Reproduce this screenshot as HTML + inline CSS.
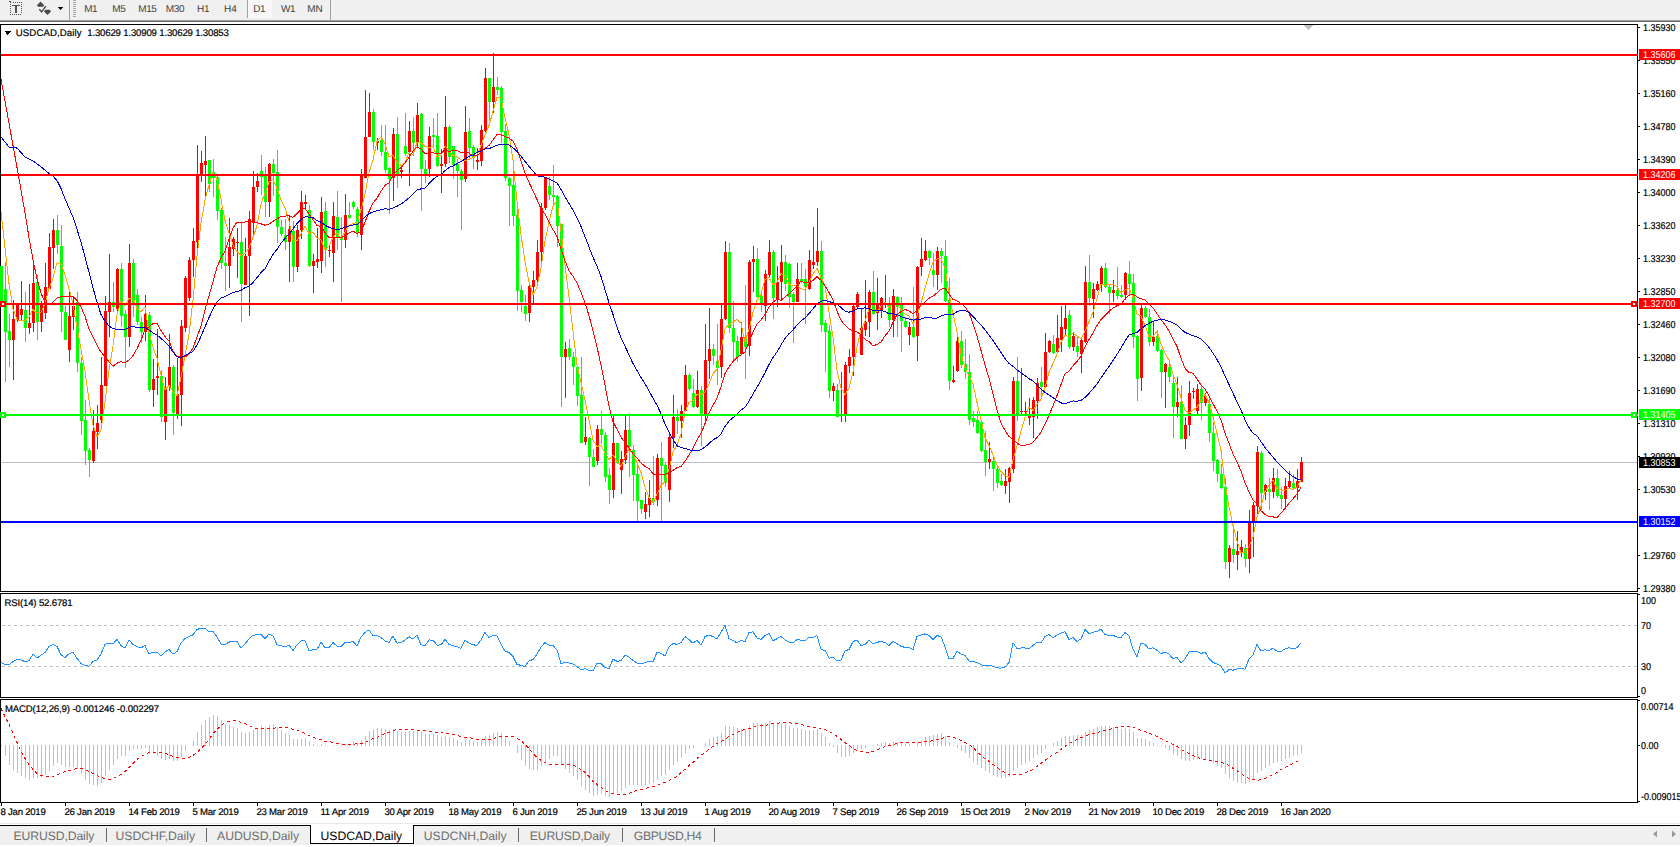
<!DOCTYPE html>
<html><head><meta charset="utf-8"><title>USDCAD,Daily</title>
<style>
html,body{margin:0;padding:0;background:#fff;}
body{width:1680px;height:847px;position:relative;overflow:hidden;font-family:"Liberation Sans",sans-serif;color:#000;text-rendering:geometricPrecision;}
.abs{position:absolute;}
.tb{left:0;top:0;width:1680px;height:20px;background:#f0f0f0;}
.tf{position:absolute;top:3px;font-size:10px;color:#3c3c3c;line-height:11px;white-space:nowrap;}
.ax,.lbl,.dt{-webkit-text-stroke:0.2px currentColor;}
.ax{position:absolute;left:1643px;font-size:10px;line-height:11px;white-space:nowrap;transform:scaleX(0.9);transform-origin:0 0;}
.pl{position:absolute;left:1639px;width:41px;height:11px;font-size:10px;line-height:11px;color:#fff;white-space:nowrap;}
.pl span{position:absolute;left:4px;top:1px;transform:scaleX(0.9);transform-origin:0 0;}
.dt{position:absolute;top:807px;font-size:9.6px;line-height:11px;letter-spacing:-0.25px;white-space:nowrap;}
.tab{position:absolute;top:828px;font-size:12.2px;line-height:15px;color:#6e6e6e;letter-spacing:-0.1px;white-space:nowrap;}
.lbl{position:absolute;font-size:9.6px;line-height:11px;letter-spacing:-0.3px;white-space:nowrap;}
svg{position:absolute;left:0;top:0;}
</style></head><body>

<div class="abs tb"></div>
<div class="abs" style="left:0;top:20px;width:1680px;height:1px;background:#a0a0a0"></div>
<div class="abs" style="left:0;top:21px;width:1680px;height:1px;background:#696969"></div>
<div class="abs" style="left:247px;top:0;width:25px;height:18px;background:#f8f8f8;border-left:1px solid #a0a0a0;box-sizing:border-box"></div>
<div class="tf" style="left:84.2px;top:4px;letter-spacing:-0.453px;">M1</div>
<div class="tf" style="left:112.3px;top:4px;letter-spacing:-0.453px;">M5</div>
<div class="tf" style="left:138.3px;top:4px;letter-spacing:-0.451px;">M15</div>
<div class="tf" style="left:165.8px;top:4px;letter-spacing:-0.384px;">M30</div>
<div class="tf" style="left:196.9px;top:4px;letter-spacing:-0.198px;">H1</div>
<div class="tf" style="left:224px;top:4px;letter-spacing:0.102px;">H4</div>
<div class="tf" style="left:253.2px;top:4px;letter-spacing:-0.498px;">D1</div>
<div class="tf" style="left:281px;top:4px;letter-spacing:-0.350px;">W1</div>
<div class="tf" style="left:307.3px;top:4px;letter-spacing:-0.231px;">MN</div>
<div class="abs" style="left:69px;top:0;width:1px;height:20px;background:#a0a0a0"></div>
<div class="abs" style="left:330px;top:0;width:1px;height:20px;background:#a0a0a0"></div>
<svg width="1680" height="847" viewBox="0 0 1680 847" shape-rendering="crispEdges">
<rect x="13" y="2" width="1" height="1" fill="#505050"/>
<rect x="15" y="2" width="1" height="1" fill="#505050"/>
<rect x="17" y="2" width="1" height="1" fill="#505050"/>
<rect x="19" y="2" width="1" height="1" fill="#505050"/>
<rect x="21" y="2" width="1" height="1" fill="#505050"/>
<rect x="10" y="4" width="1" height="1" fill="#505050"/>
<rect x="10" y="6" width="1" height="1" fill="#505050"/>
<rect x="10" y="8" width="1" height="1" fill="#505050"/>
<rect x="10" y="10" width="1" height="1" fill="#505050"/>
<rect x="10" y="12" width="1" height="1" fill="#505050"/>
<rect x="10" y="14" width="1" height="1" fill="#505050"/>
<rect x="10" y="14" width="1" height="1" fill="#505050"/>
<rect x="12" y="14" width="1" height="1" fill="#505050"/>
<rect x="14" y="14" width="1" height="1" fill="#505050"/>
<rect x="16" y="14" width="1" height="1" fill="#505050"/>
<rect x="18" y="14" width="1" height="1" fill="#505050"/>
<rect x="20" y="14" width="1" height="1" fill="#505050"/>
<rect x="21" y="2" width="1" height="1" fill="#505050"/>
<rect x="21" y="4" width="1" height="1" fill="#505050"/>
<rect x="21" y="6" width="1" height="1" fill="#505050"/>
<rect x="21" y="8" width="1" height="1" fill="#505050"/>
<rect x="21" y="10" width="1" height="1" fill="#505050"/>
<rect x="21" y="12" width="1" height="1" fill="#505050"/>
<rect x="9" y="1" width="2" height="1" fill="#505050"/>
<rect x="10" y="2" width="1" height="1" fill="#505050"/>
<rect x="12" y="5" width="8" height="1" fill="#505050"/>
<rect x="15" y="6" width="2" height="7" fill="#505050"/>
<g shape-rendering="auto">
<polygon points="40.5,1.6 44.2,5.5 43,6.7 38.2,6.7 36.8,5.5" fill="#484848"/>
<polygon points="45.3,9.8 49.7,9.8 51,11.4 47.5,15 44,11.4" fill="#484848"/>
<polyline points="39.3,9.3 41.6,11.8 45.8,6.2" fill="none" stroke="#484848" stroke-width="1.4"/>
<polygon points="57.7,7 63.3,7 60.5,10" fill="#000"/>
</g>
<rect x="73" y="0" width="3" height="1" fill="#a8a8a8"/>
<rect x="73" y="2" width="3" height="1" fill="#a8a8a8"/>
<rect x="73" y="4" width="3" height="1" fill="#a8a8a8"/>
<rect x="73" y="6" width="3" height="1" fill="#a8a8a8"/>
<rect x="73" y="8" width="3" height="1" fill="#a8a8a8"/>
<rect x="73" y="10" width="3" height="1" fill="#a8a8a8"/>
<rect x="73" y="12" width="3" height="1" fill="#a8a8a8"/>
<rect x="73" y="14" width="3" height="1" fill="#a8a8a8"/>
<rect x="73" y="16" width="3" height="1" fill="#a8a8a8"/>
<rect x="0" y="24" width="1638" height="1" fill="#000"/>
<rect x="0" y="24" width="1" height="779" fill="#000"/>
<rect x="1637" y="24" width="1" height="779" fill="#000"/>
<rect x="0" y="591" width="1638" height="1" fill="#000"/>
<rect x="0" y="593" width="1638" height="1" fill="#000"/>
<rect x="0" y="697" width="1638" height="1" fill="#000"/>
<rect x="0" y="699" width="1638" height="1" fill="#000"/>
<rect x="0" y="802" width="1638" height="1" fill="#000"/>
<rect x="1" y="592" width="1636" height="1" fill="#fff"/>
<rect x="1" y="698" width="1636" height="1" fill="#fff"/>
<rect x="0" y="592" width="1" height="1" fill="#fff"/>
<rect x="1637" y="592" width="1" height="1" fill="#fff"/>
<rect x="0" y="698" width="1" height="1" fill="#fff"/>
<rect x="1637" y="698" width="1" height="1" fill="#fff"/>
<rect x="1638" y="27" width="2" height="1" fill="#000"/>
<rect x="1638" y="60" width="2" height="1" fill="#000"/>
<rect x="1638" y="93" width="2" height="1" fill="#000"/>
<rect x="1638" y="126" width="2" height="1" fill="#000"/>
<rect x="1638" y="159" width="2" height="1" fill="#000"/>
<rect x="1638" y="192" width="2" height="1" fill="#000"/>
<rect x="1638" y="225" width="2" height="1" fill="#000"/>
<rect x="1638" y="258" width="2" height="1" fill="#000"/>
<rect x="1638" y="291" width="2" height="1" fill="#000"/>
<rect x="1638" y="324" width="2" height="1" fill="#000"/>
<rect x="1638" y="357" width="2" height="1" fill="#000"/>
<rect x="1638" y="390" width="2" height="1" fill="#000"/>
<rect x="1638" y="423" width="2" height="1" fill="#000"/>
<rect x="1638" y="456" width="2" height="1" fill="#000"/>
<rect x="1638" y="489" width="2" height="1" fill="#000"/>
<rect x="1638" y="555" width="2" height="1" fill="#000"/>
<rect x="1638" y="588" width="2" height="1" fill="#000"/>
<rect x="1638" y="745" width="2" height="1" fill="#000"/>
<rect x="1638" y="594" width="2" height="1" fill="#000"/>
<rect x="1638" y="696" width="2" height="1" fill="#000"/>
<rect x="1638" y="700" width="2" height="1" fill="#000"/>
<rect x="1638" y="801" width="2" height="1" fill="#000"/>
<rect x="1" y="803" width="1" height="3" fill="#000"/>
<rect x="65" y="803" width="1" height="3" fill="#000"/>
<rect x="129" y="803" width="1" height="3" fill="#000"/>
<rect x="193" y="803" width="1" height="3" fill="#000"/>
<rect x="257" y="803" width="1" height="3" fill="#000"/>
<rect x="321" y="803" width="1" height="3" fill="#000"/>
<rect x="385" y="803" width="1" height="3" fill="#000"/>
<rect x="449" y="803" width="1" height="3" fill="#000"/>
<rect x="513" y="803" width="1" height="3" fill="#000"/>
<rect x="577" y="803" width="1" height="3" fill="#000"/>
<rect x="641" y="803" width="1" height="3" fill="#000"/>
<rect x="705" y="803" width="1" height="3" fill="#000"/>
<rect x="769" y="803" width="1" height="3" fill="#000"/>
<rect x="833" y="803" width="1" height="3" fill="#000"/>
<rect x="897" y="803" width="1" height="3" fill="#000"/>
<rect x="961" y="803" width="1" height="3" fill="#000"/>
<rect x="1025" y="803" width="1" height="3" fill="#000"/>
<rect x="1089" y="803" width="1" height="3" fill="#000"/>
<rect x="1153" y="803" width="1" height="3" fill="#000"/>
<rect x="1217" y="803" width="1" height="3" fill="#000"/>
<rect x="1281" y="803" width="1" height="3" fill="#000"/>
<rect x="1" y="462" width="1636" height="1" fill="#c0c0c0"/>
<rect x="1304" y="25" width="9" height="1" fill="#c0c0c0"/>
<rect x="1305" y="26" width="7" height="1" fill="#c0c0c0"/>
<rect x="1306" y="27" width="5" height="1" fill="#c0c0c0"/>
<rect x="1307" y="28" width="3" height="1" fill="#c0c0c0"/>
<rect x="1308" y="29" width="1" height="1" fill="#c0c0c0"/>
<polygon points="4,30.5 11.5,30.5 7.75,35" fill="#000"/>
<g stroke="#c0c0c0" stroke-width="1" stroke-dasharray="3 3">
<line x1="2" y1="625.5" x2="1637" y2="625.5"/><line x1="2" y1="666.5" x2="1637" y2="666.5"/></g>
<rect x="1" y="745" width="1" height="1" fill="#c0c0c0"/>
<rect x="5" y="745" width="1" height="11" fill="#c0c0c0"/>
<rect x="9" y="745" width="1" height="20" fill="#c0c0c0"/>
<rect x="13" y="745" width="1" height="25" fill="#c0c0c0"/>
<rect x="17" y="745" width="1" height="28" fill="#c0c0c0"/>
<rect x="21" y="745" width="1" height="31" fill="#c0c0c0"/>
<rect x="25" y="745" width="1" height="33" fill="#c0c0c0"/>
<rect x="29" y="745" width="1" height="35" fill="#c0c0c0"/>
<rect x="33" y="745" width="1" height="33" fill="#c0c0c0"/>
<rect x="37" y="745" width="1" height="33" fill="#c0c0c0"/>
<rect x="41" y="745" width="1" height="32" fill="#c0c0c0"/>
<rect x="45" y="745" width="1" height="30" fill="#c0c0c0"/>
<rect x="49" y="745" width="1" height="26" fill="#c0c0c0"/>
<rect x="53" y="745" width="1" height="21" fill="#c0c0c0"/>
<rect x="57" y="745" width="1" height="18" fill="#c0c0c0"/>
<rect x="61" y="745" width="1" height="20" fill="#c0c0c0"/>
<rect x="65" y="745" width="1" height="22" fill="#c0c0c0"/>
<rect x="69" y="745" width="1" height="22" fill="#c0c0c0"/>
<rect x="73" y="745" width="1" height="22" fill="#c0c0c0"/>
<rect x="77" y="745" width="1" height="24" fill="#c0c0c0"/>
<rect x="81" y="745" width="1" height="29" fill="#c0c0c0"/>
<rect x="85" y="745" width="1" height="35" fill="#c0c0c0"/>
<rect x="89" y="745" width="1" height="39" fill="#c0c0c0"/>
<rect x="93" y="745" width="1" height="40" fill="#c0c0c0"/>
<rect x="97" y="745" width="1" height="41" fill="#c0c0c0"/>
<rect x="101" y="745" width="1" height="38" fill="#c0c0c0"/>
<rect x="105" y="745" width="1" height="31" fill="#c0c0c0"/>
<rect x="109" y="745" width="1" height="25" fill="#c0c0c0"/>
<rect x="113" y="745" width="1" height="20" fill="#c0c0c0"/>
<rect x="117" y="745" width="1" height="14" fill="#c0c0c0"/>
<rect x="121" y="745" width="1" height="11" fill="#c0c0c0"/>
<rect x="125" y="745" width="1" height="11" fill="#c0c0c0"/>
<rect x="129" y="745" width="1" height="6" fill="#c0c0c0"/>
<rect x="133" y="745" width="1" height="4" fill="#c0c0c0"/>
<rect x="137" y="745" width="1" height="4" fill="#c0c0c0"/>
<rect x="141" y="745" width="1" height="4" fill="#c0c0c0"/>
<rect x="145" y="745" width="1" height="3" fill="#c0c0c0"/>
<rect x="149" y="745" width="1" height="7" fill="#c0c0c0"/>
<rect x="153" y="745" width="1" height="9" fill="#c0c0c0"/>
<rect x="157" y="745" width="1" height="11" fill="#c0c0c0"/>
<rect x="161" y="745" width="1" height="14" fill="#c0c0c0"/>
<rect x="165" y="745" width="1" height="15" fill="#c0c0c0"/>
<rect x="169" y="745" width="1" height="14" fill="#c0c0c0"/>
<rect x="173" y="745" width="1" height="16" fill="#c0c0c0"/>
<rect x="177" y="745" width="1" height="16" fill="#c0c0c0"/>
<rect x="181" y="745" width="1" height="12" fill="#c0c0c0"/>
<rect x="185" y="745" width="1" height="6" fill="#c0c0c0"/>
<rect x="193" y="741" width="1" height="5" fill="#c0c0c0"/>
<rect x="197" y="732" width="1" height="14" fill="#c0c0c0"/>
<rect x="201" y="725" width="1" height="21" fill="#c0c0c0"/>
<rect x="205" y="720" width="1" height="26" fill="#c0c0c0"/>
<rect x="209" y="717" width="1" height="29" fill="#c0c0c0"/>
<rect x="213" y="715" width="1" height="31" fill="#c0c0c0"/>
<rect x="217" y="716" width="1" height="30" fill="#c0c0c0"/>
<rect x="221" y="720" width="1" height="26" fill="#c0c0c0"/>
<rect x="225" y="724" width="1" height="22" fill="#c0c0c0"/>
<rect x="229" y="725" width="1" height="21" fill="#c0c0c0"/>
<rect x="233" y="727" width="1" height="19" fill="#c0c0c0"/>
<rect x="237" y="728" width="1" height="18" fill="#c0c0c0"/>
<rect x="241" y="732" width="1" height="14" fill="#c0c0c0"/>
<rect x="245" y="733" width="1" height="13" fill="#c0c0c0"/>
<rect x="249" y="732" width="1" height="14" fill="#c0c0c0"/>
<rect x="253" y="730" width="1" height="16" fill="#c0c0c0"/>
<rect x="257" y="728" width="1" height="18" fill="#c0c0c0"/>
<rect x="261" y="726" width="1" height="20" fill="#c0c0c0"/>
<rect x="265" y="727" width="1" height="19" fill="#c0c0c0"/>
<rect x="269" y="725" width="1" height="21" fill="#c0c0c0"/>
<rect x="273" y="724" width="1" height="22" fill="#c0c0c0"/>
<rect x="277" y="727" width="1" height="19" fill="#c0c0c0"/>
<rect x="281" y="730" width="1" height="16" fill="#c0c0c0"/>
<rect x="285" y="733" width="1" height="13" fill="#c0c0c0"/>
<rect x="289" y="735" width="1" height="11" fill="#c0c0c0"/>
<rect x="293" y="739" width="1" height="7" fill="#c0c0c0"/>
<rect x="297" y="739" width="1" height="7" fill="#c0c0c0"/>
<rect x="301" y="739" width="1" height="7" fill="#c0c0c0"/>
<rect x="305" y="738" width="1" height="8" fill="#c0c0c0"/>
<rect x="309" y="741" width="1" height="5" fill="#c0c0c0"/>
<rect x="313" y="744" width="1" height="2" fill="#c0c0c0"/>
<rect x="317" y="745" width="1" height="1" fill="#c0c0c0"/>
<rect x="321" y="744" width="1" height="2" fill="#c0c0c0"/>
<rect x="325" y="745" width="1" height="1" fill="#c0c0c0"/>
<rect x="333" y="745" width="1" height="1" fill="#c0c0c0"/>
<rect x="337" y="745" width="1" height="1" fill="#c0c0c0"/>
<rect x="341" y="745" width="1" height="1" fill="#c0c0c0"/>
<rect x="345" y="744" width="1" height="2" fill="#c0c0c0"/>
<rect x="349" y="744" width="1" height="2" fill="#c0c0c0"/>
<rect x="353" y="742" width="1" height="4" fill="#c0c0c0"/>
<rect x="357" y="743" width="1" height="3" fill="#c0c0c0"/>
<rect x="361" y="740" width="1" height="6" fill="#c0c0c0"/>
<rect x="365" y="736" width="1" height="10" fill="#c0c0c0"/>
<rect x="369" y="731" width="1" height="15" fill="#c0c0c0"/>
<rect x="373" y="729" width="1" height="17" fill="#c0c0c0"/>
<rect x="377" y="728" width="1" height="18" fill="#c0c0c0"/>
<rect x="381" y="728" width="1" height="18" fill="#c0c0c0"/>
<rect x="385" y="729" width="1" height="17" fill="#c0c0c0"/>
<rect x="389" y="730" width="1" height="16" fill="#c0c0c0"/>
<rect x="393" y="729" width="1" height="17" fill="#c0c0c0"/>
<rect x="397" y="731" width="1" height="15" fill="#c0c0c0"/>
<rect x="401" y="732" width="1" height="14" fill="#c0c0c0"/>
<rect x="405" y="732" width="1" height="14" fill="#c0c0c0"/>
<rect x="409" y="731" width="1" height="15" fill="#c0c0c0"/>
<rect x="413" y="731" width="1" height="15" fill="#c0c0c0"/>
<rect x="417" y="730" width="1" height="16" fill="#c0c0c0"/>
<rect x="421" y="732" width="1" height="14" fill="#c0c0c0"/>
<rect x="425" y="734" width="1" height="12" fill="#c0c0c0"/>
<rect x="429" y="734" width="1" height="12" fill="#c0c0c0"/>
<rect x="433" y="734" width="1" height="12" fill="#c0c0c0"/>
<rect x="437" y="735" width="1" height="11" fill="#c0c0c0"/>
<rect x="441" y="737" width="1" height="9" fill="#c0c0c0"/>
<rect x="445" y="736" width="1" height="10" fill="#c0c0c0"/>
<rect x="449" y="737" width="1" height="9" fill="#c0c0c0"/>
<rect x="453" y="738" width="1" height="8" fill="#c0c0c0"/>
<rect x="457" y="740" width="1" height="6" fill="#c0c0c0"/>
<rect x="461" y="742" width="1" height="4" fill="#c0c0c0"/>
<rect x="465" y="740" width="1" height="6" fill="#c0c0c0"/>
<rect x="469" y="740" width="1" height="6" fill="#c0c0c0"/>
<rect x="473" y="741" width="1" height="5" fill="#c0c0c0"/>
<rect x="477" y="742" width="1" height="4" fill="#c0c0c0"/>
<rect x="481" y="740" width="1" height="6" fill="#c0c0c0"/>
<rect x="485" y="736" width="1" height="10" fill="#c0c0c0"/>
<rect x="489" y="735" width="1" height="11" fill="#c0c0c0"/>
<rect x="493" y="733" width="1" height="13" fill="#c0c0c0"/>
<rect x="497" y="732" width="1" height="14" fill="#c0c0c0"/>
<rect x="501" y="733" width="1" height="13" fill="#c0c0c0"/>
<rect x="505" y="738" width="1" height="8" fill="#c0c0c0"/>
<rect x="509" y="741" width="1" height="5" fill="#c0c0c0"/>
<rect x="517" y="745" width="1" height="8" fill="#c0c0c0"/>
<rect x="521" y="745" width="1" height="15" fill="#c0c0c0"/>
<rect x="525" y="745" width="1" height="21" fill="#c0c0c0"/>
<rect x="529" y="745" width="1" height="24" fill="#c0c0c0"/>
<rect x="533" y="745" width="1" height="25" fill="#c0c0c0"/>
<rect x="537" y="745" width="1" height="25" fill="#c0c0c0"/>
<rect x="541" y="745" width="1" height="21" fill="#c0c0c0"/>
<rect x="545" y="745" width="1" height="17" fill="#c0c0c0"/>
<rect x="549" y="745" width="1" height="14" fill="#c0c0c0"/>
<rect x="553" y="745" width="1" height="11" fill="#c0c0c0"/>
<rect x="557" y="745" width="1" height="11" fill="#c0c0c0"/>
<rect x="561" y="745" width="1" height="19" fill="#c0c0c0"/>
<rect x="565" y="745" width="1" height="24" fill="#c0c0c0"/>
<rect x="569" y="745" width="1" height="28" fill="#c0c0c0"/>
<rect x="573" y="745" width="1" height="31" fill="#c0c0c0"/>
<rect x="577" y="745" width="1" height="35" fill="#c0c0c0"/>
<rect x="581" y="745" width="1" height="41" fill="#c0c0c0"/>
<rect x="585" y="745" width="1" height="45" fill="#c0c0c0"/>
<rect x="589" y="745" width="1" height="48" fill="#c0c0c0"/>
<rect x="593" y="745" width="1" height="51" fill="#c0c0c0"/>
<rect x="597" y="745" width="1" height="50" fill="#c0c0c0"/>
<rect x="601" y="745" width="1" height="49" fill="#c0c0c0"/>
<rect x="605" y="745" width="1" height="51" fill="#c0c0c0"/>
<rect x="609" y="745" width="1" height="52" fill="#c0c0c0"/>
<rect x="613" y="745" width="1" height="49" fill="#c0c0c0"/>
<rect x="617" y="745" width="1" height="48" fill="#c0c0c0"/>
<rect x="621" y="745" width="1" height="46" fill="#c0c0c0"/>
<rect x="625" y="745" width="1" height="43" fill="#c0c0c0"/>
<rect x="629" y="745" width="1" height="40" fill="#c0c0c0"/>
<rect x="633" y="745" width="1" height="40" fill="#c0c0c0"/>
<rect x="637" y="745" width="1" height="40" fill="#c0c0c0"/>
<rect x="641" y="745" width="1" height="41" fill="#c0c0c0"/>
<rect x="645" y="745" width="1" height="40" fill="#c0c0c0"/>
<rect x="649" y="745" width="1" height="39" fill="#c0c0c0"/>
<rect x="653" y="745" width="1" height="38" fill="#c0c0c0"/>
<rect x="657" y="745" width="1" height="34" fill="#c0c0c0"/>
<rect x="661" y="745" width="1" height="31" fill="#c0c0c0"/>
<rect x="665" y="745" width="1" height="30" fill="#c0c0c0"/>
<rect x="669" y="745" width="1" height="25" fill="#c0c0c0"/>
<rect x="673" y="745" width="1" height="20" fill="#c0c0c0"/>
<rect x="677" y="745" width="1" height="17" fill="#c0c0c0"/>
<rect x="681" y="745" width="1" height="13" fill="#c0c0c0"/>
<rect x="685" y="745" width="1" height="8" fill="#c0c0c0"/>
<rect x="689" y="745" width="1" height="4" fill="#c0c0c0"/>
<rect x="693" y="745" width="1" height="3" fill="#c0c0c0"/>
<rect x="705" y="743" width="1" height="3" fill="#c0c0c0"/>
<rect x="709" y="739" width="1" height="7" fill="#c0c0c0"/>
<rect x="713" y="737" width="1" height="9" fill="#c0c0c0"/>
<rect x="717" y="736" width="1" height="10" fill="#c0c0c0"/>
<rect x="721" y="733" width="1" height="13" fill="#c0c0c0"/>
<rect x="725" y="726" width="1" height="20" fill="#c0c0c0"/>
<rect x="729" y="726" width="1" height="20" fill="#c0c0c0"/>
<rect x="733" y="727" width="1" height="19" fill="#c0c0c0"/>
<rect x="737" y="728" width="1" height="18" fill="#c0c0c0"/>
<rect x="741" y="729" width="1" height="17" fill="#c0c0c0"/>
<rect x="745" y="730" width="1" height="16" fill="#c0c0c0"/>
<rect x="749" y="726" width="1" height="20" fill="#c0c0c0"/>
<rect x="753" y="723" width="1" height="23" fill="#c0c0c0"/>
<rect x="757" y="723" width="1" height="23" fill="#c0c0c0"/>
<rect x="761" y="724" width="1" height="22" fill="#c0c0c0"/>
<rect x="765" y="723" width="1" height="23" fill="#c0c0c0"/>
<rect x="769" y="721" width="1" height="25" fill="#c0c0c0"/>
<rect x="773" y="723" width="1" height="23" fill="#c0c0c0"/>
<rect x="777" y="723" width="1" height="23" fill="#c0c0c0"/>
<rect x="781" y="723" width="1" height="23" fill="#c0c0c0"/>
<rect x="785" y="724" width="1" height="22" fill="#c0c0c0"/>
<rect x="789" y="726" width="1" height="20" fill="#c0c0c0"/>
<rect x="793" y="728" width="1" height="18" fill="#c0c0c0"/>
<rect x="797" y="728" width="1" height="18" fill="#c0c0c0"/>
<rect x="801" y="729" width="1" height="17" fill="#c0c0c0"/>
<rect x="805" y="730" width="1" height="16" fill="#c0c0c0"/>
<rect x="809" y="730" width="1" height="16" fill="#c0c0c0"/>
<rect x="813" y="730" width="1" height="16" fill="#c0c0c0"/>
<rect x="817" y="729" width="1" height="17" fill="#c0c0c0"/>
<rect x="821" y="733" width="1" height="13" fill="#c0c0c0"/>
<rect x="825" y="737" width="1" height="9" fill="#c0c0c0"/>
<rect x="829" y="743" width="1" height="3" fill="#c0c0c0"/>
<rect x="833" y="745" width="1" height="2" fill="#c0c0c0"/>
<rect x="837" y="745" width="1" height="8" fill="#c0c0c0"/>
<rect x="841" y="745" width="1" height="12" fill="#c0c0c0"/>
<rect x="845" y="745" width="1" height="12" fill="#c0c0c0"/>
<rect x="849" y="745" width="1" height="11" fill="#c0c0c0"/>
<rect x="853" y="745" width="1" height="8" fill="#c0c0c0"/>
<rect x="857" y="745" width="1" height="5" fill="#c0c0c0"/>
<rect x="861" y="745" width="1" height="4" fill="#c0c0c0"/>
<rect x="865" y="745" width="1" height="3" fill="#c0c0c0"/>
<rect x="873" y="745" width="1" height="1" fill="#c0c0c0"/>
<rect x="877" y="744" width="1" height="2" fill="#c0c0c0"/>
<rect x="881" y="743" width="1" height="3" fill="#c0c0c0"/>
<rect x="885" y="742" width="1" height="4" fill="#c0c0c0"/>
<rect x="889" y="743" width="1" height="3" fill="#c0c0c0"/>
<rect x="893" y="742" width="1" height="4" fill="#c0c0c0"/>
<rect x="897" y="742" width="1" height="4" fill="#c0c0c0"/>
<rect x="901" y="743" width="1" height="3" fill="#c0c0c0"/>
<rect x="905" y="744" width="1" height="2" fill="#c0c0c0"/>
<rect x="909" y="744" width="1" height="2" fill="#c0c0c0"/>
<rect x="917" y="743" width="1" height="3" fill="#c0c0c0"/>
<rect x="921" y="740" width="1" height="6" fill="#c0c0c0"/>
<rect x="925" y="737" width="1" height="9" fill="#c0c0c0"/>
<rect x="929" y="736" width="1" height="10" fill="#c0c0c0"/>
<rect x="933" y="735" width="1" height="11" fill="#c0c0c0"/>
<rect x="937" y="734" width="1" height="12" fill="#c0c0c0"/>
<rect x="941" y="733" width="1" height="13" fill="#c0c0c0"/>
<rect x="945" y="736" width="1" height="10" fill="#c0c0c0"/>
<rect x="949" y="742" width="1" height="4" fill="#c0c0c0"/>
<rect x="953" y="745" width="1" height="1" fill="#c0c0c0"/>
<rect x="957" y="745" width="1" height="3" fill="#c0c0c0"/>
<rect x="961" y="745" width="1" height="6" fill="#c0c0c0"/>
<rect x="965" y="745" width="1" height="8" fill="#c0c0c0"/>
<rect x="969" y="745" width="1" height="13" fill="#c0c0c0"/>
<rect x="973" y="745" width="1" height="17" fill="#c0c0c0"/>
<rect x="977" y="745" width="1" height="20" fill="#c0c0c0"/>
<rect x="981" y="745" width="1" height="23" fill="#c0c0c0"/>
<rect x="985" y="745" width="1" height="26" fill="#c0c0c0"/>
<rect x="989" y="745" width="1" height="28" fill="#c0c0c0"/>
<rect x="993" y="745" width="1" height="30" fill="#c0c0c0"/>
<rect x="997" y="745" width="1" height="32" fill="#c0c0c0"/>
<rect x="1001" y="745" width="1" height="33" fill="#c0c0c0"/>
<rect x="1005" y="745" width="1" height="33" fill="#c0c0c0"/>
<rect x="1009" y="745" width="1" height="32" fill="#c0c0c0"/>
<rect x="1013" y="745" width="1" height="26" fill="#c0c0c0"/>
<rect x="1017" y="745" width="1" height="23" fill="#c0c0c0"/>
<rect x="1021" y="745" width="1" height="20" fill="#c0c0c0"/>
<rect x="1025" y="745" width="1" height="18" fill="#c0c0c0"/>
<rect x="1029" y="745" width="1" height="16" fill="#c0c0c0"/>
<rect x="1033" y="745" width="1" height="13" fill="#c0c0c0"/>
<rect x="1037" y="745" width="1" height="10" fill="#c0c0c0"/>
<rect x="1041" y="745" width="1" height="8" fill="#c0c0c0"/>
<rect x="1045" y="745" width="1" height="4" fill="#c0c0c0"/>
<rect x="1053" y="743" width="1" height="3" fill="#c0c0c0"/>
<rect x="1057" y="741" width="1" height="5" fill="#c0c0c0"/>
<rect x="1061" y="738" width="1" height="8" fill="#c0c0c0"/>
<rect x="1065" y="736" width="1" height="10" fill="#c0c0c0"/>
<rect x="1069" y="736" width="1" height="10" fill="#c0c0c0"/>
<rect x="1073" y="735" width="1" height="11" fill="#c0c0c0"/>
<rect x="1077" y="735" width="1" height="11" fill="#c0c0c0"/>
<rect x="1081" y="735" width="1" height="11" fill="#c0c0c0"/>
<rect x="1085" y="732" width="1" height="14" fill="#c0c0c0"/>
<rect x="1089" y="730" width="1" height="16" fill="#c0c0c0"/>
<rect x="1093" y="729" width="1" height="17" fill="#c0c0c0"/>
<rect x="1097" y="727" width="1" height="19" fill="#c0c0c0"/>
<rect x="1101" y="726" width="1" height="20" fill="#c0c0c0"/>
<rect x="1105" y="726" width="1" height="20" fill="#c0c0c0"/>
<rect x="1109" y="726" width="1" height="20" fill="#c0c0c0"/>
<rect x="1113" y="727" width="1" height="19" fill="#c0c0c0"/>
<rect x="1117" y="728" width="1" height="18" fill="#c0c0c0"/>
<rect x="1121" y="729" width="1" height="17" fill="#c0c0c0"/>
<rect x="1125" y="728" width="1" height="18" fill="#c0c0c0"/>
<rect x="1129" y="729" width="1" height="17" fill="#c0c0c0"/>
<rect x="1133" y="732" width="1" height="14" fill="#c0c0c0"/>
<rect x="1137" y="738" width="1" height="8" fill="#c0c0c0"/>
<rect x="1141" y="738" width="1" height="8" fill="#c0c0c0"/>
<rect x="1145" y="739" width="1" height="7" fill="#c0c0c0"/>
<rect x="1149" y="741" width="1" height="5" fill="#c0c0c0"/>
<rect x="1153" y="743" width="1" height="3" fill="#c0c0c0"/>
<rect x="1157" y="745" width="1" height="1" fill="#c0c0c0"/>
<rect x="1161" y="745" width="1" height="1" fill="#c0c0c0"/>
<rect x="1165" y="745" width="1" height="3" fill="#c0c0c0"/>
<rect x="1169" y="745" width="1" height="5" fill="#c0c0c0"/>
<rect x="1173" y="745" width="1" height="9" fill="#c0c0c0"/>
<rect x="1177" y="745" width="1" height="11" fill="#c0c0c0"/>
<rect x="1181" y="745" width="1" height="14" fill="#c0c0c0"/>
<rect x="1185" y="745" width="1" height="16" fill="#c0c0c0"/>
<rect x="1189" y="745" width="1" height="16" fill="#c0c0c0"/>
<rect x="1193" y="745" width="1" height="15" fill="#c0c0c0"/>
<rect x="1197" y="745" width="1" height="14" fill="#c0c0c0"/>
<rect x="1201" y="745" width="1" height="14" fill="#c0c0c0"/>
<rect x="1205" y="745" width="1" height="14" fill="#c0c0c0"/>
<rect x="1209" y="745" width="1" height="15" fill="#c0c0c0"/>
<rect x="1213" y="745" width="1" height="18" fill="#c0c0c0"/>
<rect x="1217" y="745" width="1" height="21" fill="#c0c0c0"/>
<rect x="1221" y="745" width="1" height="23" fill="#c0c0c0"/>
<rect x="1225" y="745" width="1" height="29" fill="#c0c0c0"/>
<rect x="1229" y="745" width="1" height="33" fill="#c0c0c0"/>
<rect x="1233" y="745" width="1" height="36" fill="#c0c0c0"/>
<rect x="1237" y="745" width="1" height="38" fill="#c0c0c0"/>
<rect x="1241" y="745" width="1" height="38" fill="#c0c0c0"/>
<rect x="1245" y="745" width="1" height="39" fill="#c0c0c0"/>
<rect x="1249" y="745" width="1" height="37" fill="#c0c0c0"/>
<rect x="1253" y="745" width="1" height="34" fill="#c0c0c0"/>
<rect x="1257" y="745" width="1" height="28" fill="#c0c0c0"/>
<rect x="1261" y="745" width="1" height="26" fill="#c0c0c0"/>
<rect x="1265" y="745" width="1" height="23" fill="#c0c0c0"/>
<rect x="1269" y="745" width="1" height="21" fill="#c0c0c0"/>
<rect x="1273" y="745" width="1" height="18" fill="#c0c0c0"/>
<rect x="1277" y="745" width="1" height="17" fill="#c0c0c0"/>
<rect x="1281" y="745" width="1" height="16" fill="#c0c0c0"/>
<rect x="1285" y="745" width="1" height="14" fill="#c0c0c0"/>
<rect x="1289" y="745" width="1" height="13" fill="#c0c0c0"/>
<rect x="1293" y="745" width="1" height="11" fill="#c0c0c0"/>
<rect x="1297" y="745" width="1" height="10" fill="#c0c0c0"/>
<rect x="1301" y="745" width="1" height="8" fill="#c0c0c0"/>
<rect x="1" y="266" width="1" height="37" fill="#00ff00"/>
<rect x="0" y="266" width="3" height="37" fill="#00ff00"/>
<rect x="5" y="262" width="1" height="120" fill="#00ff00"/>
<rect x="4" y="289" width="3" height="43" fill="#00ff00"/>
<rect x="9" y="314" width="1" height="53" fill="#00ff00"/>
<rect x="8" y="331" width="3" height="9" fill="#00ff00"/>
<rect x="13" y="300" width="1" height="80" fill="#ff0000"/>
<rect x="12" y="319" width="3" height="21" fill="#ff0000"/>
<rect x="17" y="304" width="1" height="18" fill="#ff0000"/>
<rect x="16" y="305" width="3" height="15" fill="#ff0000"/>
<rect x="21" y="281" width="1" height="40" fill="#ff0000"/>
<rect x="20" y="309" width="3" height="6" fill="#ff0000"/>
<rect x="25" y="292" width="1" height="50" fill="#00ff00"/>
<rect x="24" y="310" width="3" height="18" fill="#00ff00"/>
<rect x="29" y="284" width="1" height="50" fill="#ff0000"/>
<rect x="28" y="323" width="3" height="5" fill="#ff0000"/>
<rect x="33" y="263" width="1" height="69" fill="#ff0000"/>
<rect x="32" y="283" width="3" height="40" fill="#ff0000"/>
<rect x="37" y="275" width="1" height="65" fill="#00ff00"/>
<rect x="36" y="282" width="3" height="40" fill="#00ff00"/>
<rect x="41" y="301" width="1" height="31" fill="#ff0000"/>
<rect x="40" y="304" width="3" height="18" fill="#ff0000"/>
<rect x="45" y="263" width="1" height="56" fill="#ff0000"/>
<rect x="44" y="287" width="3" height="26" fill="#ff0000"/>
<rect x="49" y="233" width="1" height="56" fill="#ff0000"/>
<rect x="48" y="247" width="3" height="42" fill="#ff0000"/>
<rect x="53" y="219" width="1" height="50" fill="#ff0000"/>
<rect x="52" y="230" width="3" height="18" fill="#ff0000"/>
<rect x="57" y="215" width="1" height="39" fill="#00ff00"/>
<rect x="56" y="230" width="3" height="15" fill="#00ff00"/>
<rect x="61" y="225" width="1" height="107" fill="#00ff00"/>
<rect x="60" y="246" width="3" height="66" fill="#00ff00"/>
<rect x="65" y="306" width="1" height="34" fill="#00ff00"/>
<rect x="64" y="312" width="3" height="28" fill="#00ff00"/>
<rect x="69" y="291" width="1" height="71" fill="#ff0000"/>
<rect x="68" y="316" width="3" height="34" fill="#ff0000"/>
<rect x="73" y="296" width="1" height="34" fill="#ff0000"/>
<rect x="72" y="306" width="3" height="11" fill="#ff0000"/>
<rect x="77" y="292" width="1" height="80" fill="#00ff00"/>
<rect x="76" y="302" width="3" height="61" fill="#00ff00"/>
<rect x="81" y="357" width="1" height="78" fill="#00ff00"/>
<rect x="80" y="363" width="3" height="58" fill="#00ff00"/>
<rect x="85" y="400" width="1" height="65" fill="#00ff00"/>
<rect x="84" y="420" width="3" height="31" fill="#00ff00"/>
<rect x="89" y="448" width="1" height="29" fill="#00ff00"/>
<rect x="88" y="450" width="3" height="10" fill="#00ff00"/>
<rect x="93" y="410" width="1" height="53" fill="#ff0000"/>
<rect x="92" y="431" width="3" height="30" fill="#ff0000"/>
<rect x="97" y="405" width="1" height="44" fill="#ff0000"/>
<rect x="96" y="423" width="3" height="9" fill="#ff0000"/>
<rect x="101" y="357" width="1" height="70" fill="#ff0000"/>
<rect x="100" y="385" width="3" height="35" fill="#ff0000"/>
<rect x="105" y="296" width="1" height="90" fill="#ff0000"/>
<rect x="104" y="311" width="3" height="75" fill="#ff0000"/>
<rect x="109" y="254" width="1" height="83" fill="#ff0000"/>
<rect x="108" y="302" width="3" height="10" fill="#ff0000"/>
<rect x="113" y="282" width="1" height="30" fill="#00ff00"/>
<rect x="112" y="302" width="3" height="5" fill="#00ff00"/>
<rect x="117" y="268" width="1" height="44" fill="#ff0000"/>
<rect x="116" y="269" width="3" height="40" fill="#ff0000"/>
<rect x="121" y="263" width="1" height="64" fill="#00ff00"/>
<rect x="120" y="269" width="3" height="47" fill="#00ff00"/>
<rect x="125" y="310" width="1" height="58" fill="#00ff00"/>
<rect x="124" y="314" width="3" height="23" fill="#00ff00"/>
<rect x="129" y="244" width="1" height="103" fill="#ff0000"/>
<rect x="128" y="263" width="3" height="74" fill="#ff0000"/>
<rect x="133" y="259" width="1" height="58" fill="#00ff00"/>
<rect x="132" y="263" width="3" height="41" fill="#00ff00"/>
<rect x="137" y="289" width="1" height="36" fill="#00ff00"/>
<rect x="136" y="295" width="3" height="27" fill="#00ff00"/>
<rect x="141" y="317" width="1" height="26" fill="#00ff00"/>
<rect x="140" y="322" width="3" height="10" fill="#00ff00"/>
<rect x="145" y="295" width="1" height="46" fill="#ff0000"/>
<rect x="144" y="314" width="3" height="18" fill="#ff0000"/>
<rect x="149" y="312" width="1" height="80" fill="#00ff00"/>
<rect x="148" y="315" width="3" height="75" fill="#00ff00"/>
<rect x="153" y="359" width="1" height="48" fill="#ff0000"/>
<rect x="152" y="379" width="3" height="11" fill="#ff0000"/>
<rect x="157" y="329" width="1" height="66" fill="#ff0000"/>
<rect x="156" y="376" width="3" height="2" fill="#ff0000"/>
<rect x="161" y="370" width="1" height="52" fill="#00ff00"/>
<rect x="160" y="376" width="3" height="41" fill="#00ff00"/>
<rect x="165" y="377" width="1" height="63" fill="#ff0000"/>
<rect x="164" y="387" width="3" height="35" fill="#ff0000"/>
<rect x="169" y="334" width="1" height="57" fill="#ff0000"/>
<rect x="168" y="367" width="3" height="20" fill="#ff0000"/>
<rect x="173" y="365" width="1" height="70" fill="#00ff00"/>
<rect x="172" y="367" width="3" height="46" fill="#00ff00"/>
<rect x="177" y="358" width="1" height="61" fill="#ff0000"/>
<rect x="176" y="394" width="3" height="20" fill="#ff0000"/>
<rect x="181" y="320" width="1" height="106" fill="#ff0000"/>
<rect x="180" y="326" width="3" height="69" fill="#ff0000"/>
<rect x="185" y="276" width="1" height="56" fill="#ff0000"/>
<rect x="184" y="278" width="3" height="50" fill="#ff0000"/>
<rect x="189" y="257" width="1" height="44" fill="#ff0000"/>
<rect x="188" y="260" width="3" height="38" fill="#ff0000"/>
<rect x="193" y="228" width="1" height="49" fill="#ff0000"/>
<rect x="192" y="241" width="3" height="19" fill="#ff0000"/>
<rect x="197" y="145" width="1" height="106" fill="#ff0000"/>
<rect x="196" y="175" width="3" height="67" fill="#ff0000"/>
<rect x="201" y="151" width="1" height="31" fill="#ff0000"/>
<rect x="200" y="163" width="3" height="12" fill="#ff0000"/>
<rect x="205" y="136" width="1" height="62" fill="#ff0000"/>
<rect x="204" y="161" width="3" height="4" fill="#ff0000"/>
<rect x="209" y="160" width="1" height="32" fill="#00ff00"/>
<rect x="208" y="160" width="3" height="24" fill="#00ff00"/>
<rect x="213" y="159" width="1" height="38" fill="#00ff00"/>
<rect x="212" y="172" width="3" height="6" fill="#00ff00"/>
<rect x="217" y="176" width="1" height="44" fill="#00ff00"/>
<rect x="216" y="177" width="3" height="34" fill="#00ff00"/>
<rect x="221" y="208" width="1" height="61" fill="#00ff00"/>
<rect x="220" y="210" width="3" height="53" fill="#00ff00"/>
<rect x="225" y="237" width="1" height="54" fill="#00ff00"/>
<rect x="224" y="263" width="3" height="3" fill="#00ff00"/>
<rect x="229" y="218" width="1" height="70" fill="#ff0000"/>
<rect x="228" y="247" width="3" height="19" fill="#ff0000"/>
<rect x="233" y="237" width="1" height="19" fill="#ff0000"/>
<rect x="232" y="239" width="3" height="10" fill="#ff0000"/>
<rect x="237" y="228" width="1" height="50" fill="#ff0000"/>
<rect x="236" y="242" width="3" height="1" fill="#ff0000"/>
<rect x="241" y="222" width="1" height="100" fill="#00ff00"/>
<rect x="240" y="242" width="3" height="42" fill="#00ff00"/>
<rect x="245" y="238" width="1" height="47" fill="#ff0000"/>
<rect x="244" y="256" width="3" height="29" fill="#ff0000"/>
<rect x="249" y="211" width="1" height="105" fill="#ff0000"/>
<rect x="248" y="219" width="3" height="37" fill="#ff0000"/>
<rect x="253" y="171" width="1" height="64" fill="#ff0000"/>
<rect x="252" y="187" width="3" height="36" fill="#ff0000"/>
<rect x="257" y="173" width="1" height="19" fill="#ff0000"/>
<rect x="256" y="181" width="3" height="6" fill="#ff0000"/>
<rect x="261" y="155" width="1" height="40" fill="#00ff00"/>
<rect x="260" y="171" width="3" height="6" fill="#00ff00"/>
<rect x="265" y="167" width="1" height="50" fill="#00ff00"/>
<rect x="264" y="176" width="3" height="26" fill="#00ff00"/>
<rect x="269" y="163" width="1" height="54" fill="#ff0000"/>
<rect x="268" y="164" width="3" height="38" fill="#ff0000"/>
<rect x="273" y="159" width="1" height="37" fill="#00ff00"/>
<rect x="272" y="164" width="3" height="9" fill="#00ff00"/>
<rect x="277" y="150" width="1" height="93" fill="#00ff00"/>
<rect x="276" y="172" width="3" height="55" fill="#00ff00"/>
<rect x="281" y="220" width="1" height="16" fill="#00ff00"/>
<rect x="280" y="227" width="3" height="7" fill="#00ff00"/>
<rect x="285" y="219" width="1" height="31" fill="#00ff00"/>
<rect x="284" y="235" width="3" height="7" fill="#00ff00"/>
<rect x="289" y="215" width="1" height="67" fill="#ff0000"/>
<rect x="288" y="229" width="3" height="13" fill="#ff0000"/>
<rect x="293" y="221" width="1" height="61" fill="#00ff00"/>
<rect x="292" y="231" width="3" height="36" fill="#00ff00"/>
<rect x="297" y="225" width="1" height="47" fill="#ff0000"/>
<rect x="296" y="230" width="3" height="37" fill="#ff0000"/>
<rect x="301" y="191" width="1" height="48" fill="#ff0000"/>
<rect x="300" y="202" width="3" height="28" fill="#ff0000"/>
<rect x="305" y="195" width="1" height="14" fill="#ff0000"/>
<rect x="304" y="202" width="3" height="2" fill="#ff0000"/>
<rect x="309" y="205" width="1" height="62" fill="#00ff00"/>
<rect x="308" y="210" width="3" height="56" fill="#00ff00"/>
<rect x="313" y="254" width="1" height="39" fill="#ff0000"/>
<rect x="312" y="261" width="3" height="5" fill="#ff0000"/>
<rect x="317" y="228" width="1" height="40" fill="#ff0000"/>
<rect x="316" y="259" width="3" height="3" fill="#ff0000"/>
<rect x="321" y="197" width="1" height="76" fill="#ff0000"/>
<rect x="320" y="212" width="3" height="49" fill="#ff0000"/>
<rect x="325" y="202" width="1" height="65" fill="#00ff00"/>
<rect x="324" y="211" width="3" height="39" fill="#00ff00"/>
<rect x="329" y="244" width="1" height="13" fill="#ff0000"/>
<rect x="328" y="250" width="3" height="1" fill="#ff0000"/>
<rect x="333" y="202" width="1" height="80" fill="#ff0000"/>
<rect x="332" y="216" width="3" height="37" fill="#ff0000"/>
<rect x="337" y="191" width="1" height="59" fill="#00ff00"/>
<rect x="336" y="217" width="3" height="21" fill="#00ff00"/>
<rect x="341" y="217" width="1" height="85" fill="#00ff00"/>
<rect x="340" y="237" width="3" height="3" fill="#00ff00"/>
<rect x="345" y="194" width="1" height="54" fill="#ff0000"/>
<rect x="344" y="215" width="3" height="25" fill="#ff0000"/>
<rect x="349" y="202" width="1" height="17" fill="#00ff00"/>
<rect x="348" y="215" width="3" height="3" fill="#00ff00"/>
<rect x="353" y="201" width="1" height="8" fill="#00ff00"/>
<rect x="352" y="202" width="3" height="5" fill="#00ff00"/>
<rect x="357" y="207" width="1" height="30" fill="#00ff00"/>
<rect x="356" y="209" width="3" height="24" fill="#00ff00"/>
<rect x="361" y="169" width="1" height="81" fill="#ff0000"/>
<rect x="360" y="175" width="3" height="60" fill="#ff0000"/>
<rect x="365" y="90" width="1" height="88" fill="#ff0000"/>
<rect x="364" y="137" width="3" height="41" fill="#ff0000"/>
<rect x="369" y="93" width="1" height="44" fill="#ff0000"/>
<rect x="368" y="112" width="3" height="25" fill="#ff0000"/>
<rect x="373" y="109" width="1" height="41" fill="#00ff00"/>
<rect x="372" y="112" width="3" height="30" fill="#00ff00"/>
<rect x="377" y="138" width="1" height="12" fill="#ff0000"/>
<rect x="376" y="141" width="3" height="2" fill="#ff0000"/>
<rect x="381" y="125" width="1" height="31" fill="#00ff00"/>
<rect x="380" y="140" width="3" height="12" fill="#00ff00"/>
<rect x="385" y="125" width="1" height="48" fill="#00ff00"/>
<rect x="384" y="152" width="3" height="18" fill="#00ff00"/>
<rect x="389" y="167" width="1" height="47" fill="#00ff00"/>
<rect x="388" y="168" width="3" height="11" fill="#00ff00"/>
<rect x="393" y="128" width="1" height="73" fill="#ff0000"/>
<rect x="392" y="134" width="3" height="44" fill="#ff0000"/>
<rect x="397" y="117" width="1" height="71" fill="#00ff00"/>
<rect x="396" y="134" width="3" height="41" fill="#00ff00"/>
<rect x="401" y="167" width="1" height="11" fill="#ff0000"/>
<rect x="400" y="170" width="3" height="2" fill="#ff0000"/>
<rect x="405" y="113" width="1" height="43" fill="#00ff00"/>
<rect x="404" y="146" width="3" height="8" fill="#00ff00"/>
<rect x="409" y="121" width="1" height="65" fill="#ff0000"/>
<rect x="408" y="131" width="3" height="21" fill="#ff0000"/>
<rect x="413" y="117" width="1" height="39" fill="#00ff00"/>
<rect x="412" y="131" width="3" height="12" fill="#00ff00"/>
<rect x="417" y="103" width="1" height="44" fill="#ff0000"/>
<rect x="416" y="115" width="3" height="27" fill="#ff0000"/>
<rect x="421" y="113" width="1" height="98" fill="#00ff00"/>
<rect x="420" y="114" width="3" height="55" fill="#00ff00"/>
<rect x="425" y="160" width="1" height="23" fill="#00ff00"/>
<rect x="424" y="169" width="3" height="6" fill="#00ff00"/>
<rect x="429" y="127" width="1" height="50" fill="#ff0000"/>
<rect x="428" y="136" width="3" height="33" fill="#ff0000"/>
<rect x="433" y="118" width="1" height="30" fill="#00ff00"/>
<rect x="432" y="135" width="3" height="2" fill="#00ff00"/>
<rect x="437" y="113" width="1" height="54" fill="#00ff00"/>
<rect x="436" y="136" width="3" height="30" fill="#00ff00"/>
<rect x="441" y="149" width="1" height="44" fill="#ff0000"/>
<rect x="440" y="164" width="3" height="2" fill="#ff0000"/>
<rect x="445" y="96" width="1" height="71" fill="#ff0000"/>
<rect x="444" y="127" width="3" height="37" fill="#ff0000"/>
<rect x="449" y="125" width="1" height="38" fill="#00ff00"/>
<rect x="448" y="127" width="3" height="30" fill="#00ff00"/>
<rect x="453" y="146" width="1" height="33" fill="#00ff00"/>
<rect x="452" y="146" width="3" height="19" fill="#00ff00"/>
<rect x="457" y="159" width="1" height="38" fill="#00ff00"/>
<rect x="456" y="164" width="3" height="7" fill="#00ff00"/>
<rect x="461" y="169" width="1" height="61" fill="#00ff00"/>
<rect x="460" y="171" width="3" height="9" fill="#00ff00"/>
<rect x="465" y="106" width="1" height="76" fill="#ff0000"/>
<rect x="464" y="132" width="3" height="47" fill="#ff0000"/>
<rect x="469" y="118" width="1" height="40" fill="#00ff00"/>
<rect x="468" y="131" width="3" height="17" fill="#00ff00"/>
<rect x="473" y="145" width="1" height="24" fill="#00ff00"/>
<rect x="472" y="147" width="3" height="11" fill="#00ff00"/>
<rect x="477" y="148" width="1" height="22" fill="#ff0000"/>
<rect x="476" y="160" width="3" height="2" fill="#ff0000"/>
<rect x="481" y="125" width="1" height="41" fill="#ff0000"/>
<rect x="480" y="130" width="3" height="31" fill="#ff0000"/>
<rect x="485" y="68" width="1" height="64" fill="#ff0000"/>
<rect x="484" y="78" width="3" height="53" fill="#ff0000"/>
<rect x="489" y="78" width="1" height="43" fill="#00ff00"/>
<rect x="488" y="78" width="3" height="24" fill="#00ff00"/>
<rect x="493" y="53" width="1" height="60" fill="#ff0000"/>
<rect x="492" y="87" width="3" height="15" fill="#ff0000"/>
<rect x="497" y="77" width="1" height="18" fill="#00ff00"/>
<rect x="496" y="87" width="3" height="3" fill="#00ff00"/>
<rect x="501" y="86" width="1" height="57" fill="#00ff00"/>
<rect x="500" y="88" width="3" height="44" fill="#00ff00"/>
<rect x="505" y="124" width="1" height="57" fill="#00ff00"/>
<rect x="504" y="131" width="3" height="47" fill="#00ff00"/>
<rect x="509" y="177" width="1" height="49" fill="#00ff00"/>
<rect x="508" y="178" width="3" height="8" fill="#00ff00"/>
<rect x="513" y="167" width="1" height="59" fill="#00ff00"/>
<rect x="512" y="185" width="3" height="31" fill="#00ff00"/>
<rect x="517" y="209" width="1" height="102" fill="#00ff00"/>
<rect x="516" y="215" width="3" height="76" fill="#00ff00"/>
<rect x="521" y="285" width="1" height="27" fill="#00ff00"/>
<rect x="520" y="290" width="3" height="12" fill="#00ff00"/>
<rect x="525" y="295" width="1" height="26" fill="#00ff00"/>
<rect x="524" y="306" width="3" height="8" fill="#00ff00"/>
<rect x="529" y="284" width="1" height="38" fill="#ff0000"/>
<rect x="528" y="286" width="3" height="27" fill="#ff0000"/>
<rect x="533" y="271" width="1" height="32" fill="#ff0000"/>
<rect x="532" y="280" width="3" height="7" fill="#ff0000"/>
<rect x="537" y="240" width="1" height="45" fill="#ff0000"/>
<rect x="536" y="252" width="3" height="28" fill="#ff0000"/>
<rect x="541" y="203" width="1" height="62" fill="#ff0000"/>
<rect x="540" y="208" width="3" height="44" fill="#ff0000"/>
<rect x="545" y="177" width="1" height="33" fill="#ff0000"/>
<rect x="544" y="178" width="3" height="30" fill="#ff0000"/>
<rect x="549" y="177" width="1" height="23" fill="#00ff00"/>
<rect x="548" y="186" width="3" height="9" fill="#00ff00"/>
<rect x="553" y="165" width="1" height="40" fill="#00ff00"/>
<rect x="552" y="195" width="3" height="2" fill="#00ff00"/>
<rect x="557" y="195" width="1" height="52" fill="#00ff00"/>
<rect x="556" y="196" width="3" height="30" fill="#00ff00"/>
<rect x="561" y="224" width="1" height="183" fill="#00ff00"/>
<rect x="560" y="224" width="3" height="133" fill="#00ff00"/>
<rect x="565" y="342" width="1" height="56" fill="#ff0000"/>
<rect x="564" y="349" width="3" height="8" fill="#ff0000"/>
<rect x="569" y="339" width="1" height="21" fill="#00ff00"/>
<rect x="568" y="348" width="3" height="9" fill="#00ff00"/>
<rect x="573" y="352" width="1" height="33" fill="#00ff00"/>
<rect x="572" y="357" width="3" height="10" fill="#00ff00"/>
<rect x="577" y="366" width="1" height="40" fill="#00ff00"/>
<rect x="576" y="367" width="3" height="29" fill="#00ff00"/>
<rect x="581" y="357" width="1" height="86" fill="#00ff00"/>
<rect x="580" y="395" width="3" height="48" fill="#00ff00"/>
<rect x="585" y="417" width="1" height="28" fill="#ff0000"/>
<rect x="584" y="437" width="3" height="5" fill="#ff0000"/>
<rect x="589" y="437" width="1" height="49" fill="#00ff00"/>
<rect x="588" y="438" width="3" height="19" fill="#00ff00"/>
<rect x="593" y="449" width="1" height="18" fill="#00ff00"/>
<rect x="592" y="457" width="3" height="10" fill="#00ff00"/>
<rect x="597" y="425" width="1" height="40" fill="#ff0000"/>
<rect x="596" y="429" width="3" height="32" fill="#ff0000"/>
<rect x="601" y="411" width="1" height="33" fill="#00ff00"/>
<rect x="600" y="429" width="3" height="6" fill="#00ff00"/>
<rect x="605" y="432" width="1" height="50" fill="#00ff00"/>
<rect x="604" y="435" width="3" height="42" fill="#00ff00"/>
<rect x="609" y="468" width="1" height="36" fill="#00ff00"/>
<rect x="608" y="475" width="3" height="15" fill="#00ff00"/>
<rect x="613" y="416" width="1" height="82" fill="#ff0000"/>
<rect x="612" y="443" width="3" height="47" fill="#ff0000"/>
<rect x="617" y="443" width="1" height="21" fill="#00ff00"/>
<rect x="616" y="443" width="3" height="20" fill="#00ff00"/>
<rect x="621" y="451" width="1" height="43" fill="#ff0000"/>
<rect x="620" y="459" width="3" height="11" fill="#ff0000"/>
<rect x="625" y="415" width="1" height="49" fill="#ff0000"/>
<rect x="624" y="430" width="3" height="30" fill="#ff0000"/>
<rect x="629" y="413" width="1" height="64" fill="#00ff00"/>
<rect x="628" y="430" width="3" height="17" fill="#00ff00"/>
<rect x="633" y="445" width="1" height="56" fill="#00ff00"/>
<rect x="632" y="450" width="3" height="25" fill="#00ff00"/>
<rect x="637" y="464" width="1" height="57" fill="#00ff00"/>
<rect x="636" y="474" width="3" height="27" fill="#00ff00"/>
<rect x="641" y="500" width="1" height="14" fill="#00ff00"/>
<rect x="640" y="500" width="3" height="9" fill="#00ff00"/>
<rect x="645" y="492" width="1" height="27" fill="#ff0000"/>
<rect x="644" y="504" width="3" height="8" fill="#ff0000"/>
<rect x="649" y="480" width="1" height="37" fill="#ff0000"/>
<rect x="648" y="498" width="3" height="7" fill="#ff0000"/>
<rect x="653" y="456" width="1" height="49" fill="#00ff00"/>
<rect x="652" y="498" width="3" height="4" fill="#00ff00"/>
<rect x="657" y="454" width="1" height="52" fill="#ff0000"/>
<rect x="656" y="458" width="3" height="42" fill="#ff0000"/>
<rect x="661" y="442" width="1" height="79" fill="#00ff00"/>
<rect x="660" y="458" width="3" height="8" fill="#00ff00"/>
<rect x="665" y="463" width="1" height="24" fill="#00ff00"/>
<rect x="664" y="465" width="3" height="18" fill="#00ff00"/>
<rect x="669" y="433" width="1" height="69" fill="#ff0000"/>
<rect x="668" y="437" width="3" height="53" fill="#ff0000"/>
<rect x="673" y="395" width="1" height="53" fill="#ff0000"/>
<rect x="672" y="417" width="3" height="21" fill="#ff0000"/>
<rect x="677" y="409" width="1" height="25" fill="#00ff00"/>
<rect x="676" y="417" width="3" height="4" fill="#00ff00"/>
<rect x="681" y="405" width="1" height="33" fill="#ff0000"/>
<rect x="680" y="411" width="3" height="10" fill="#ff0000"/>
<rect x="685" y="365" width="1" height="46" fill="#ff0000"/>
<rect x="684" y="375" width="3" height="36" fill="#ff0000"/>
<rect x="689" y="373" width="1" height="18" fill="#00ff00"/>
<rect x="688" y="375" width="3" height="14" fill="#00ff00"/>
<rect x="693" y="379" width="1" height="29" fill="#00ff00"/>
<rect x="692" y="393" width="3" height="14" fill="#00ff00"/>
<rect x="697" y="371" width="1" height="37" fill="#ff0000"/>
<rect x="696" y="390" width="3" height="17" fill="#ff0000"/>
<rect x="701" y="386" width="1" height="60" fill="#00ff00"/>
<rect x="700" y="390" width="3" height="24" fill="#00ff00"/>
<rect x="705" y="324" width="1" height="98" fill="#ff0000"/>
<rect x="704" y="360" width="3" height="54" fill="#ff0000"/>
<rect x="709" y="308" width="1" height="71" fill="#ff0000"/>
<rect x="708" y="349" width="3" height="12" fill="#ff0000"/>
<rect x="713" y="344" width="1" height="21" fill="#00ff00"/>
<rect x="712" y="349" width="3" height="7" fill="#00ff00"/>
<rect x="717" y="324" width="1" height="61" fill="#00ff00"/>
<rect x="716" y="361" width="3" height="7" fill="#00ff00"/>
<rect x="721" y="303" width="1" height="75" fill="#ff0000"/>
<rect x="720" y="319" width="3" height="48" fill="#ff0000"/>
<rect x="725" y="241" width="1" height="79" fill="#ff0000"/>
<rect x="724" y="252" width="3" height="67" fill="#ff0000"/>
<rect x="729" y="243" width="1" height="90" fill="#00ff00"/>
<rect x="728" y="252" width="3" height="76" fill="#00ff00"/>
<rect x="733" y="301" width="1" height="59" fill="#00ff00"/>
<rect x="732" y="328" width="3" height="14" fill="#00ff00"/>
<rect x="737" y="336" width="1" height="26" fill="#00ff00"/>
<rect x="736" y="341" width="3" height="16" fill="#00ff00"/>
<rect x="741" y="322" width="1" height="33" fill="#ff0000"/>
<rect x="740" y="337" width="3" height="17" fill="#ff0000"/>
<rect x="745" y="285" width="1" height="94" fill="#00ff00"/>
<rect x="744" y="338" width="3" height="9" fill="#00ff00"/>
<rect x="749" y="260" width="1" height="96" fill="#ff0000"/>
<rect x="748" y="262" width="3" height="84" fill="#ff0000"/>
<rect x="753" y="246" width="1" height="46" fill="#ff0000"/>
<rect x="752" y="259" width="3" height="3" fill="#ff0000"/>
<rect x="757" y="248" width="1" height="50" fill="#00ff00"/>
<rect x="756" y="259" width="3" height="38" fill="#00ff00"/>
<rect x="761" y="291" width="1" height="21" fill="#00ff00"/>
<rect x="760" y="296" width="3" height="9" fill="#00ff00"/>
<rect x="765" y="270" width="1" height="51" fill="#ff0000"/>
<rect x="764" y="274" width="3" height="32" fill="#ff0000"/>
<rect x="769" y="240" width="1" height="37" fill="#ff0000"/>
<rect x="768" y="252" width="3" height="23" fill="#ff0000"/>
<rect x="773" y="250" width="1" height="69" fill="#00ff00"/>
<rect x="772" y="252" width="3" height="46" fill="#00ff00"/>
<rect x="777" y="266" width="1" height="41" fill="#ff0000"/>
<rect x="776" y="282" width="3" height="18" fill="#ff0000"/>
<rect x="781" y="245" width="1" height="56" fill="#ff0000"/>
<rect x="780" y="262" width="3" height="20" fill="#ff0000"/>
<rect x="785" y="255" width="1" height="36" fill="#00ff00"/>
<rect x="784" y="262" width="3" height="22" fill="#00ff00"/>
<rect x="789" y="263" width="1" height="45" fill="#00ff00"/>
<rect x="788" y="264" width="3" height="33" fill="#00ff00"/>
<rect x="793" y="292" width="1" height="51" fill="#00ff00"/>
<rect x="792" y="294" width="3" height="8" fill="#00ff00"/>
<rect x="797" y="263" width="1" height="39" fill="#ff0000"/>
<rect x="796" y="279" width="3" height="23" fill="#ff0000"/>
<rect x="801" y="263" width="1" height="20" fill="#00ff00"/>
<rect x="800" y="279" width="3" height="3" fill="#00ff00"/>
<rect x="805" y="269" width="1" height="55" fill="#00ff00"/>
<rect x="804" y="279" width="3" height="8" fill="#00ff00"/>
<rect x="809" y="250" width="1" height="40" fill="#ff0000"/>
<rect x="808" y="260" width="3" height="29" fill="#ff0000"/>
<rect x="813" y="227" width="1" height="42" fill="#ff0000"/>
<rect x="812" y="262" width="3" height="3" fill="#ff0000"/>
<rect x="817" y="208" width="1" height="58" fill="#ff0000"/>
<rect x="816" y="251" width="3" height="11" fill="#ff0000"/>
<rect x="821" y="241" width="1" height="91" fill="#00ff00"/>
<rect x="820" y="251" width="3" height="74" fill="#00ff00"/>
<rect x="825" y="320" width="1" height="52" fill="#00ff00"/>
<rect x="824" y="323" width="3" height="9" fill="#00ff00"/>
<rect x="829" y="325" width="1" height="73" fill="#00ff00"/>
<rect x="828" y="331" width="3" height="60" fill="#00ff00"/>
<rect x="833" y="383" width="1" height="18" fill="#ff0000"/>
<rect x="832" y="386" width="3" height="5" fill="#ff0000"/>
<rect x="837" y="384" width="1" height="33" fill="#00ff00"/>
<rect x="836" y="390" width="3" height="27" fill="#00ff00"/>
<rect x="841" y="372" width="1" height="50" fill="#ff0000"/>
<rect x="840" y="414" width="3" height="2" fill="#ff0000"/>
<rect x="845" y="362" width="1" height="60" fill="#ff0000"/>
<rect x="844" y="365" width="3" height="50" fill="#ff0000"/>
<rect x="849" y="349" width="1" height="24" fill="#ff0000"/>
<rect x="848" y="357" width="3" height="9" fill="#ff0000"/>
<rect x="853" y="304" width="1" height="72" fill="#ff0000"/>
<rect x="852" y="306" width="3" height="51" fill="#ff0000"/>
<rect x="857" y="292" width="1" height="16" fill="#ff0000"/>
<rect x="856" y="294" width="3" height="13" fill="#ff0000"/>
<rect x="861" y="309" width="1" height="46" fill="#ff0000"/>
<rect x="860" y="328" width="3" height="27" fill="#ff0000"/>
<rect x="865" y="280" width="1" height="56" fill="#ff0000"/>
<rect x="864" y="322" width="3" height="8" fill="#ff0000"/>
<rect x="869" y="290" width="1" height="47" fill="#ff0000"/>
<rect x="868" y="292" width="3" height="30" fill="#ff0000"/>
<rect x="873" y="271" width="1" height="44" fill="#00ff00"/>
<rect x="872" y="292" width="3" height="22" fill="#00ff00"/>
<rect x="877" y="278" width="1" height="52" fill="#ff0000"/>
<rect x="876" y="304" width="3" height="9" fill="#ff0000"/>
<rect x="881" y="297" width="1" height="21" fill="#ff0000"/>
<rect x="880" y="298" width="3" height="12" fill="#ff0000"/>
<rect x="885" y="275" width="1" height="33" fill="#ff0000"/>
<rect x="884" y="303" width="3" height="2" fill="#ff0000"/>
<rect x="889" y="297" width="1" height="30" fill="#00ff00"/>
<rect x="888" y="304" width="3" height="16" fill="#00ff00"/>
<rect x="893" y="289" width="1" height="48" fill="#ff0000"/>
<rect x="892" y="296" width="3" height="24" fill="#ff0000"/>
<rect x="897" y="296" width="1" height="41" fill="#00ff00"/>
<rect x="896" y="297" width="3" height="10" fill="#00ff00"/>
<rect x="901" y="297" width="1" height="55" fill="#00ff00"/>
<rect x="900" y="304" width="3" height="17" fill="#00ff00"/>
<rect x="905" y="317" width="1" height="11" fill="#00ff00"/>
<rect x="904" y="321" width="3" height="6" fill="#00ff00"/>
<rect x="909" y="322" width="1" height="23" fill="#ff0000"/>
<rect x="908" y="327" width="3" height="8" fill="#ff0000"/>
<rect x="913" y="287" width="1" height="51" fill="#00ff00"/>
<rect x="912" y="327" width="3" height="10" fill="#00ff00"/>
<rect x="917" y="266" width="1" height="95" fill="#ff0000"/>
<rect x="916" y="267" width="3" height="69" fill="#ff0000"/>
<rect x="921" y="238" width="1" height="38" fill="#ff0000"/>
<rect x="920" y="259" width="3" height="8" fill="#ff0000"/>
<rect x="925" y="240" width="1" height="21" fill="#ff0000"/>
<rect x="924" y="251" width="3" height="9" fill="#ff0000"/>
<rect x="929" y="250" width="1" height="15" fill="#00ff00"/>
<rect x="928" y="251" width="3" height="7" fill="#00ff00"/>
<rect x="933" y="253" width="1" height="34" fill="#00ff00"/>
<rect x="932" y="270" width="3" height="5" fill="#00ff00"/>
<rect x="937" y="247" width="1" height="43" fill="#ff0000"/>
<rect x="936" y="251" width="3" height="24" fill="#ff0000"/>
<rect x="941" y="248" width="1" height="35" fill="#00ff00"/>
<rect x="940" y="251" width="3" height="5" fill="#00ff00"/>
<rect x="945" y="240" width="1" height="62" fill="#00ff00"/>
<rect x="944" y="256" width="3" height="45" fill="#00ff00"/>
<rect x="949" y="278" width="1" height="112" fill="#00ff00"/>
<rect x="948" y="300" width="3" height="81" fill="#00ff00"/>
<rect x="953" y="366" width="1" height="17" fill="#ff0000"/>
<rect x="952" y="380" width="3" height="2" fill="#ff0000"/>
<rect x="957" y="335" width="1" height="37" fill="#ff0000"/>
<rect x="956" y="341" width="3" height="30" fill="#ff0000"/>
<rect x="961" y="331" width="1" height="37" fill="#00ff00"/>
<rect x="960" y="341" width="3" height="24" fill="#00ff00"/>
<rect x="965" y="339" width="1" height="40" fill="#00ff00"/>
<rect x="964" y="364" width="3" height="8" fill="#00ff00"/>
<rect x="969" y="354" width="1" height="71" fill="#00ff00"/>
<rect x="968" y="372" width="3" height="48" fill="#00ff00"/>
<rect x="973" y="411" width="1" height="16" fill="#00ff00"/>
<rect x="972" y="418" width="3" height="4" fill="#00ff00"/>
<rect x="977" y="411" width="1" height="23" fill="#00ff00"/>
<rect x="976" y="420" width="3" height="13" fill="#00ff00"/>
<rect x="981" y="421" width="1" height="31" fill="#00ff00"/>
<rect x="980" y="422" width="3" height="29" fill="#00ff00"/>
<rect x="985" y="431" width="1" height="45" fill="#00ff00"/>
<rect x="984" y="450" width="3" height="12" fill="#00ff00"/>
<rect x="989" y="442" width="1" height="27" fill="#ff0000"/>
<rect x="988" y="459" width="3" height="3" fill="#ff0000"/>
<rect x="993" y="456" width="1" height="35" fill="#00ff00"/>
<rect x="992" y="461" width="3" height="8" fill="#00ff00"/>
<rect x="997" y="466" width="1" height="22" fill="#00ff00"/>
<rect x="996" y="469" width="3" height="14" fill="#00ff00"/>
<rect x="1001" y="474" width="1" height="12" fill="#00ff00"/>
<rect x="1000" y="481" width="3" height="4" fill="#00ff00"/>
<rect x="1005" y="469" width="1" height="25" fill="#ff0000"/>
<rect x="1004" y="481" width="3" height="5" fill="#ff0000"/>
<rect x="1009" y="467" width="1" height="36" fill="#ff0000"/>
<rect x="1008" y="468" width="3" height="14" fill="#ff0000"/>
<rect x="1013" y="377" width="1" height="96" fill="#ff0000"/>
<rect x="1012" y="381" width="3" height="88" fill="#ff0000"/>
<rect x="1017" y="357" width="1" height="64" fill="#00ff00"/>
<rect x="1016" y="381" width="3" height="34" fill="#00ff00"/>
<rect x="1021" y="368" width="1" height="46" fill="#ff0000"/>
<rect x="1020" y="411" width="3" height="1" fill="#ff0000"/>
<rect x="1025" y="402" width="1" height="12" fill="#ff0000"/>
<rect x="1024" y="411" width="3" height="1" fill="#ff0000"/>
<rect x="1029" y="398" width="1" height="27" fill="#ff0000"/>
<rect x="1028" y="416" width="3" height="2" fill="#ff0000"/>
<rect x="1033" y="397" width="1" height="41" fill="#ff0000"/>
<rect x="1032" y="400" width="3" height="17" fill="#ff0000"/>
<rect x="1037" y="378" width="1" height="41" fill="#ff0000"/>
<rect x="1036" y="383" width="3" height="18" fill="#ff0000"/>
<rect x="1041" y="367" width="1" height="31" fill="#00ff00"/>
<rect x="1040" y="382" width="3" height="5" fill="#00ff00"/>
<rect x="1045" y="333" width="1" height="54" fill="#ff0000"/>
<rect x="1044" y="352" width="3" height="35" fill="#ff0000"/>
<rect x="1049" y="340" width="1" height="13" fill="#ff0000"/>
<rect x="1048" y="341" width="3" height="11" fill="#ff0000"/>
<rect x="1053" y="335" width="1" height="19" fill="#00ff00"/>
<rect x="1052" y="344" width="3" height="9" fill="#00ff00"/>
<rect x="1057" y="315" width="1" height="38" fill="#ff0000"/>
<rect x="1056" y="338" width="3" height="14" fill="#ff0000"/>
<rect x="1061" y="306" width="1" height="46" fill="#ff0000"/>
<rect x="1060" y="327" width="3" height="13" fill="#ff0000"/>
<rect x="1065" y="304" width="1" height="32" fill="#ff0000"/>
<rect x="1064" y="318" width="3" height="11" fill="#ff0000"/>
<rect x="1069" y="310" width="1" height="39" fill="#00ff00"/>
<rect x="1068" y="315" width="3" height="32" fill="#00ff00"/>
<rect x="1073" y="332" width="1" height="19" fill="#ff0000"/>
<rect x="1072" y="336" width="3" height="11" fill="#ff0000"/>
<rect x="1077" y="337" width="1" height="20" fill="#00ff00"/>
<rect x="1076" y="346" width="3" height="6" fill="#00ff00"/>
<rect x="1081" y="338" width="1" height="35" fill="#ff0000"/>
<rect x="1080" y="340" width="3" height="14" fill="#ff0000"/>
<rect x="1085" y="266" width="1" height="77" fill="#ff0000"/>
<rect x="1084" y="282" width="3" height="60" fill="#ff0000"/>
<rect x="1089" y="255" width="1" height="51" fill="#00ff00"/>
<rect x="1088" y="282" width="3" height="16" fill="#00ff00"/>
<rect x="1093" y="283" width="1" height="35" fill="#ff0000"/>
<rect x="1092" y="289" width="3" height="10" fill="#ff0000"/>
<rect x="1097" y="281" width="1" height="10" fill="#ff0000"/>
<rect x="1096" y="284" width="3" height="6" fill="#ff0000"/>
<rect x="1101" y="266" width="1" height="26" fill="#ff0000"/>
<rect x="1100" y="268" width="3" height="17" fill="#ff0000"/>
<rect x="1105" y="263" width="1" height="25" fill="#00ff00"/>
<rect x="1104" y="268" width="3" height="19" fill="#00ff00"/>
<rect x="1109" y="285" width="1" height="29" fill="#00ff00"/>
<rect x="1108" y="287" width="3" height="6" fill="#00ff00"/>
<rect x="1113" y="280" width="1" height="22" fill="#ff0000"/>
<rect x="1112" y="290" width="3" height="3" fill="#ff0000"/>
<rect x="1117" y="267" width="1" height="32" fill="#00ff00"/>
<rect x="1116" y="290" width="3" height="6" fill="#00ff00"/>
<rect x="1121" y="285" width="1" height="13" fill="#00ff00"/>
<rect x="1120" y="295" width="3" height="2" fill="#00ff00"/>
<rect x="1125" y="272" width="1" height="28" fill="#ff0000"/>
<rect x="1124" y="273" width="3" height="22" fill="#ff0000"/>
<rect x="1129" y="261" width="1" height="34" fill="#00ff00"/>
<rect x="1128" y="274" width="3" height="10" fill="#00ff00"/>
<rect x="1133" y="274" width="1" height="74" fill="#00ff00"/>
<rect x="1132" y="283" width="3" height="54" fill="#00ff00"/>
<rect x="1137" y="335" width="1" height="66" fill="#00ff00"/>
<rect x="1136" y="336" width="3" height="43" fill="#00ff00"/>
<rect x="1141" y="305" width="1" height="86" fill="#ff0000"/>
<rect x="1140" y="308" width="3" height="70" fill="#ff0000"/>
<rect x="1145" y="306" width="1" height="12" fill="#00ff00"/>
<rect x="1144" y="308" width="3" height="9" fill="#00ff00"/>
<rect x="1149" y="309" width="1" height="37" fill="#00ff00"/>
<rect x="1148" y="317" width="3" height="25" fill="#00ff00"/>
<rect x="1153" y="322" width="1" height="24" fill="#ff0000"/>
<rect x="1152" y="337" width="3" height="5" fill="#ff0000"/>
<rect x="1157" y="330" width="1" height="22" fill="#00ff00"/>
<rect x="1156" y="336" width="3" height="15" fill="#00ff00"/>
<rect x="1161" y="349" width="1" height="49" fill="#00ff00"/>
<rect x="1160" y="350" width="3" height="22" fill="#00ff00"/>
<rect x="1165" y="363" width="1" height="45" fill="#ff0000"/>
<rect x="1164" y="364" width="3" height="8" fill="#ff0000"/>
<rect x="1169" y="362" width="1" height="20" fill="#00ff00"/>
<rect x="1168" y="367" width="3" height="10" fill="#00ff00"/>
<rect x="1173" y="376" width="1" height="62" fill="#00ff00"/>
<rect x="1172" y="383" width="3" height="24" fill="#00ff00"/>
<rect x="1177" y="377" width="1" height="40" fill="#ff0000"/>
<rect x="1176" y="402" width="3" height="5" fill="#ff0000"/>
<rect x="1181" y="385" width="1" height="54" fill="#00ff00"/>
<rect x="1180" y="402" width="3" height="37" fill="#00ff00"/>
<rect x="1185" y="417" width="1" height="32" fill="#ff0000"/>
<rect x="1184" y="425" width="3" height="14" fill="#ff0000"/>
<rect x="1189" y="381" width="1" height="55" fill="#ff0000"/>
<rect x="1188" y="393" width="3" height="32" fill="#ff0000"/>
<rect x="1193" y="388" width="1" height="11" fill="#ff0000"/>
<rect x="1192" y="391" width="3" height="1" fill="#ff0000"/>
<rect x="1197" y="384" width="1" height="30" fill="#ff0000"/>
<rect x="1196" y="389" width="3" height="22" fill="#ff0000"/>
<rect x="1201" y="386" width="1" height="34" fill="#00ff00"/>
<rect x="1200" y="389" width="3" height="14" fill="#00ff00"/>
<rect x="1205" y="393" width="1" height="13" fill="#ff0000"/>
<rect x="1204" y="396" width="3" height="7" fill="#ff0000"/>
<rect x="1209" y="397" width="1" height="45" fill="#00ff00"/>
<rect x="1208" y="404" width="3" height="29" fill="#00ff00"/>
<rect x="1213" y="422" width="1" height="49" fill="#00ff00"/>
<rect x="1212" y="433" width="3" height="28" fill="#00ff00"/>
<rect x="1217" y="459" width="1" height="23" fill="#00ff00"/>
<rect x="1216" y="460" width="3" height="14" fill="#00ff00"/>
<rect x="1221" y="464" width="1" height="25" fill="#00ff00"/>
<rect x="1220" y="474" width="3" height="14" fill="#00ff00"/>
<rect x="1225" y="478" width="1" height="91" fill="#00ff00"/>
<rect x="1224" y="487" width="3" height="75" fill="#00ff00"/>
<rect x="1229" y="545" width="1" height="33" fill="#ff0000"/>
<rect x="1228" y="548" width="3" height="14" fill="#ff0000"/>
<rect x="1233" y="529" width="1" height="34" fill="#00ff00"/>
<rect x="1232" y="549" width="3" height="6" fill="#00ff00"/>
<rect x="1237" y="531" width="1" height="39" fill="#ff0000"/>
<rect x="1236" y="551" width="3" height="4" fill="#ff0000"/>
<rect x="1241" y="540" width="1" height="17" fill="#ff0000"/>
<rect x="1240" y="547" width="3" height="6" fill="#ff0000"/>
<rect x="1245" y="544" width="1" height="23" fill="#00ff00"/>
<rect x="1244" y="548" width="3" height="11" fill="#00ff00"/>
<rect x="1249" y="510" width="1" height="63" fill="#ff0000"/>
<rect x="1248" y="522" width="3" height="37" fill="#ff0000"/>
<rect x="1253" y="502" width="1" height="55" fill="#ff0000"/>
<rect x="1252" y="505" width="3" height="18" fill="#ff0000"/>
<rect x="1257" y="446" width="1" height="71" fill="#ff0000"/>
<rect x="1256" y="452" width="3" height="54" fill="#ff0000"/>
<rect x="1261" y="451" width="1" height="59" fill="#00ff00"/>
<rect x="1260" y="453" width="3" height="40" fill="#00ff00"/>
<rect x="1265" y="484" width="1" height="16" fill="#ff0000"/>
<rect x="1264" y="485" width="3" height="7" fill="#ff0000"/>
<rect x="1269" y="478" width="1" height="32" fill="#00ff00"/>
<rect x="1268" y="489" width="3" height="3" fill="#00ff00"/>
<rect x="1273" y="468" width="1" height="30" fill="#ff0000"/>
<rect x="1272" y="478" width="3" height="14" fill="#ff0000"/>
<rect x="1277" y="469" width="1" height="29" fill="#00ff00"/>
<rect x="1276" y="478" width="3" height="18" fill="#00ff00"/>
<rect x="1281" y="487" width="1" height="22" fill="#00ff00"/>
<rect x="1280" y="495" width="3" height="4" fill="#00ff00"/>
<rect x="1285" y="478" width="1" height="30" fill="#ff0000"/>
<rect x="1284" y="486" width="3" height="13" fill="#ff0000"/>
<rect x="1289" y="471" width="1" height="17" fill="#ff0000"/>
<rect x="1288" y="481" width="3" height="6" fill="#ff0000"/>
<rect x="1293" y="474" width="1" height="15" fill="#00ff00"/>
<rect x="1292" y="483" width="3" height="5" fill="#00ff00"/>
<rect x="1297" y="469" width="1" height="31" fill="#ff0000"/>
<rect x="1296" y="481" width="3" height="7" fill="#ff0000"/>
<rect x="1301" y="457" width="1" height="25" fill="#ff0000"/>
<rect x="1300" y="462" width="3" height="20" fill="#ff0000"/>
<polyline points="1,211.708 5,248.368 9,283.437 13,308.788 17,319.8 21,321 25,320.2 29,316.8 33,309.6 37,313 41,312 45,303.8 49,288.6 53,278 57,262.6 61,264.2 65,274.8 69,288.6 73,303.8 77,327.4 81,349.2 85,371.4 89,400.2 93,425.2 97,437.2 101,430 105,402 109,370.4 113,345.6 117,314.8 121,301 125,306.2 129,298.4 133,297.8 137,308.4 141,311.6 145,307 149,332.4 153,347.4 157,358.2 161,375.2 165,389.8 169,385.2 173,392 177,395.6 181,377.4 185,355.6 189,334.2 193,299.8 197,256 201,223.4 205,200 209,184.8 213,172.2 217,179.4 221,199.4 225,220.4 229,233 233,245.2 237,251.4 241,255.6 245,253.6 249,248 253,237.6 257,225.4 261,204 265,193.2 269,182.2 273,179.4 277,188.6 281,200 285,208 289,221 293,239.8 297,240.4 301,234 305,226 309,233.4 313,232.2 317,238 321,240 325,249.6 329,246.4 333,237.4 337,233.2 341,238.8 345,231.8 349,225.4 353,223.6 357,222.6 361,209.6 365,194 369,172.8 373,159.8 377,141.4 381,136.8 385,143.4 389,156.8 393,155.2 397,162 401,165.6 405,162.4 409,152.8 413,154.6 417,142.6 421,142.4 425,146.6 429,147.6 433,146.4 437,156.6 441,155.6 445,146 449,150.2 453,155.8 457,156.8 461,160 465,161 469,159.2 473,157.8 477,155.6 481,145.6 485,134.8 489,125.6 493,111.4 497,97.4 501,97.8 505,117.8 509,134.6 513,160.4 517,200.6 521,234.6 525,261.8 529,281.8 533,294.6 537,286.8 541,268 545,240.8 549,222.6 553,206 557,200.8 561,230.6 565,264.8 569,297.2 573,331.2 577,365.2 581,382.4 585,400 589,420 593,440 597,446.6 601,445 605,453 609,459.6 613,454.8 617,461.6 621,466.4 625,457 629,448.4 633,454.8 637,462.4 641,472.4 645,487.2 649,497.4 653,502.8 657,494.2 661,485.6 665,481.4 669,469.2 673,452.2 677,444.8 681,433.8 685,412.2 689,402.6 693,400.6 697,394.4 701,395 705,392 709,384 713,373.8 717,369.4 721,350.4 725,328.8 729,324.6 733,321.8 737,319.6 741,323.2 745,342.2 749,329 753,312.4 757,300.4 761,294 765,279.4 769,277.4 773,285.2 777,282.2 781,273.6 785,275.6 789,284.6 793,285.4 797,284.8 801,288.8 805,289.4 809,282 813,274 817,268.4 821,277 825,286 829,312.2 833,337 837,370.2 841,388 845,394.6 849,387.8 853,371.8 857,347.2 861,330 865,321.4 869,308.4 873,310 877,312 881,306 885,302.2 889,307.8 893,304.2 897,304.8 901,309.4 905,314.2 909,315.6 913,323.8 917,315.8 921,303.4 925,288.2 929,274.4 933,262 937,258.8 941,258.2 945,268.2 949,292.8 953,313.8 957,331.8 961,353.6 965,367.8 969,375.6 973,384 977,402.4 981,419.6 985,437.6 989,445.4 993,454.8 997,464.8 1001,471.6 1005,475.4 1009,477.2 1013,459.6 1017,446 1021,431.2 1025,417.2 1029,406.8 1033,410.6 1037,404.2 1041,399.4 1045,387.6 1049,372.6 1053,363.2 1057,354.2 1061,342.2 1065,335.4 1069,336.6 1073,333.2 1077,336 1081,338.6 1085,331.4 1089,321.6 1093,312.2 1097,298.6 1101,284.2 1105,285.2 1109,284.2 1113,284.4 1117,286.8 1121,292.6 1125,289.8 1129,288 1133,297.4 1137,314 1141,316.2 1145,325 1149,336.6 1153,336.6 1157,331 1161,343.8 1165,353.2 1169,360.2 1173,374.2 1177,384.4 1181,397.8 1185,410 1189,413.2 1193,410 1197,407.4 1201,400.2 1205,394.4 1209,402.4 1213,416.4 1217,433.4 1221,450.4 1225,483.6 1229,506.6 1233,525.4 1237,540.8 1241,552.6 1245,552 1249,546.8 1253,536.8 1257,517 1261,506.2 1265,491.4 1269,485.4 1273,480 1277,488.8 1281,490 1285,490.2 1289,488 1293,490 1297,487 1301,479.6" fill="none" stroke="#ffa500" stroke-width="1" />
<polyline points="1,79.0264 5,101.121 9,123.251 13,145.5 17,167.486 21,189.871 25,213.009 29,237.548 33,259.865 37,279.004 41,292.939 45,302.67 49,304.498 53,302.286 57,298.143 61,296.714 65,296.714 69,296.5 73,296.571 77,300.429 81,307.071 85,316.214 89,328.857 93,336.643 97,345.143 101,352.143 105,356.714 109,361.857 113,366.286 117,363.214 121,361.5 125,363 129,359.929 133,355.714 137,348.643 141,340.143 145,329.714 149,326.786 153,323.643 157,323 161,330.571 165,336.643 169,340.929 173,351.214 177,356.786 181,356 185,357.071 189,353.929 193,348.143 197,336.929 201,326.143 205,309.786 209,295.857 213,281.714 217,267 221,258.143 225,250.929 229,239.071 233,228 237,222 241,222.429 245,222.143 249,220.571 253,221.429 257,222.714 261,223.857 265,225.143 269,224.143 273,221.429 277,218.857 281,216.571 285,216.214 289,215.5 293,217.286 297,213.429 301,209.571 305,208.357 309,214 313,219.714 317,225.571 321,226.286 325,232.429 329,237.929 333,237.143 337,237.429 341,237.286 345,236.286 349,232.786 353,231.143 357,233.357 361,231.429 365,222.214 369,211.571 373,203.214 377,198.143 381,191.143 385,185.429 389,182.786 393,175.357 397,170.714 401,167.5 405,162.929 409,157.5 413,151.071 417,146.786 421,149.071 425,153.571 429,153.143 433,152.857 437,153.857 441,153.429 445,149.714 449,151.357 453,150.643 457,150.714 461,152.571 465,152.643 469,153 473,156.071 477,155.429 481,152.214 485,148.071 489,145.571 493,139.929 497,134.643 501,135 505,136.5 509,138 513,141.214 517,149.143 521,161.286 525,173.143 529,182.286 533,190.857 537,199.571 541,208.857 545,214.286 549,222 553,229.643 557,236.357 561,249.143 565,260.786 569,270.857 573,276.286 577,283 581,292.214 585,303 589,315.643 593,331 597,346.786 601,365.143 605,385.286 609,406.214 613,421.714 617,429.286 621,437.143 625,442.357 629,448.071 633,453.714 637,457.857 641,463 645,466.357 649,468.571 653,473.786 657,475.429 661,474.643 665,474.143 669,473.714 673,470.429 677,467.714 681,466.357 685,461.214 689,455.071 693,448.357 697,439.857 701,433.429 705,423.571 709,412.643 713,405.357 717,398.357 721,386.643 725,373.429 729,367.071 733,361.429 737,357.571 741,354.857 745,351.857 749,341.5 753,332.143 757,323.786 761,319.857 765,314.5 769,307.071 773,302.071 777,299.429 781,300.143 785,297 789,293.786 793,289.857 797,285.714 801,281.071 805,282.857 809,282.929 813,280.429 817,276.571 821,280.214 825,285.929 829,292.571 833,300 837,311.071 841,320.357 845,325.214 849,329.143 853,331.071 857,331.929 861,334.857 865,339.286 869,341.429 873,345.929 877,344.429 881,342 885,335.714 889,331 893,322.357 897,314.714 901,311.571 905,309.429 909,310.929 913,314 917,309.643 921,305.143 925,302.214 929,298.214 933,296.143 937,292.786 941,289.429 945,288.071 949,294.143 953,299.357 957,300.786 961,303.5 965,306.714 969,312.643 973,323.714 977,336.143 981,350.429 985,365 989,378.143 993,393.714 997,409.929 1001,423.071 1005,430.214 1009,436.5 1013,439.357 1017,442.929 1021,445.714 1025,445.071 1029,444.643 1033,442.286 1037,437.429 1041,432.071 1045,424.429 1049,415.286 1053,406 1057,395.5 1061,384.5 1065,373.786 1069,371.357 1073,365.714 1077,361.5 1081,356.429 1085,346.857 1089,339.571 1093,332.857 1097,325.5 1101,319.5 1105,315.643 1109,311.357 1113,307.929 1117,305.714 1121,304.214 1125,298.929 1129,295.214 1133,294.143 1137,296.929 1141,298.786 1145,300.143 1149,303.929 1153,307.714 1157,313.643 1161,319.714 1165,324.786 1169,331 1173,338.929 1177,346.429 1181,358.286 1185,368.357 1189,372.357 1193,373.214 1197,379 1201,385.143 1205,389 1209,395.857 1213,403.714 1217,411 1221,419.857 1225,433.071 1229,443.143 1233,454.071 1237,462.071 1241,470.786 1245,482.643 1249,492 1253,500.286 1257,503.786 1261,510.714 1265,514.429 1269,516.643 1273,516.929 1277,517.5 1281,513 1285,508.571 1289,503.286 1293,498.786 1297,494.071 1301,487.143" fill="none" stroke="#ff0000" stroke-width="1" />
<polyline points="1,137.002 5,142.005 9,146.99 13,147.526 17,148.071 21,152.548 25,156.976 29,159.086 33,161.036 37,163.769 41,166.912 45,170.217 49,173.28 53,176.166 57,180.636 61,188.495 65,198.689 69,208.056 73,217.2 77,229.313 81,241.944 85,256.89 89,272.34 93,287.977 97,302.159 101,314.604 105,321.148 109,325.986 113,328.853 117,329.133 121,329.567 125,329.733 129,327.167 133,326.667 137,327.233 141,328 145,327.533 149,329.767 153,332.967 157,334.767 161,338.533 165,341.867 169,345.867 173,351.967 177,356.933 181,357.4 185,355.333 189,353.467 193,351.3 197,345.033 201,336.433 205,326.767 209,317.567 213,309.133 217,302.067 221,298 225,296.5 229,294.667 233,292.4 237,291.5 241,290.433 245,287.733 249,286.267 253,282.367 257,277.667 261,272.5 265,268.767 269,261.233 273,254.367 277,249.4 281,243.3 285,238.467 289,233.867 293,229 297,223.533 301,219.4 305,216.867 309,217.067 313,217.733 317,220.533 321,222.167 325,225.133 329,227.333 333,228.6 337,229.5 341,228.733 345,227.033 349,226.067 353,225 357,224.7 361,221.067 365,217.1 369,213.533 373,212.033 377,210.7 381,209.867 385,208.8 389,209.3 393,208 397,206.267 401,204.133 405,201.2 409,197.933 413,193.8 417,189.967 421,188.867 425,187.967 429,183.633 433,179.5 437,176.4 441,174.8 445,170.7 449,167.6 453,165.9 457,163.667 461,161.667 465,158.9 469,156.567 473,154.933 477,152.5 481,151 485,149.033 489,148.7 493,146.867 497,145.167 501,144.5 505,144.767 509,145 513,147.733 517,151.6 521,156 525,161.333 529,166.5 533,171.067 537,175.633 541,176.933 545,177.033 549,179 553,181 557,183 561,189.433 565,196.833 569,203.5 573,210.233 577,217.733 581,226.5 585,236.667 589,246.967 593,257.267 597,266.233 601,276.4 605,289.7 609,302.633 613,314.5 617,326.933 621,337.833 625,346.233 629,354.933 633,363.567 637,370.567 641,377.467 645,383.8 649,390.867 653,398.267 657,405.133 661,413.733 665,423.9 669,431.967 673,439.3 677,445.8 681,447.6 685,448.467 689,449.533 693,450.867 697,450.667 701,449.7 705,447.133 709,443.533 713,439.833 717,437.8 721,433.933 725,426.433 729,421.033 733,417.667 737,414.133 741,410.067 745,407.3 749,401.133 753,393.933 757,387.133 761,380.333 765,372.667 769,364.467 773,357.667 777,351.8 781,345 785,338.367 789,333.7 793,329.867 797,325.133 801,320.833 805,317.9 809,313.6 813,308.767 817,304.133 821,301.167 825,300.233 829,301.633 833,302.633 837,304.267 841,307.433 845,311.2 849,312.167 853,310.967 857,308.867 861,308.567 865,307.733 869,308.733 873,310.567 877,310.8 881,310.567 885,311.533 889,313.8 893,313.733 897,314.567 901,316.533 905,317.967 909,318.967 913,320.133 917,319.733 921,318.967 925,317.767 929,317.7 933,318.133 937,318.133 941,315.833 945,314.8 949,314.467 953,314.267 957,311.733 961,310.1 965,310.333 969,312.433 973,316.3 977,320.933 981,325.033 985,329.7 989,335.267 993,340.433 997,346.4 1001,352.633 1005,358.567 1009,363.5 1013,366.333 1017,369.933 1021,372.933 1025,375.733 1029,378.7 1033,380.8 1037,384.667 1041,388.933 1045,392.3 1049,395.067 1053,397.667 1057,400.567 1061,402.933 1065,403.5 1069,402.367 1073,400.9 1077,401.267 1081,400.433 1085,397.433 1089,393.367 1093,388.933 1097,383.967 1101,377.867 1105,372.033 1109,366.5 1113,360.533 1117,354.3 1121,348.033 1125,341.1 1129,334.967 1133,333.5 1137,332.3 1141,328.867 1145,325.733 1149,323.267 1153,321.167 1157,320.1 1161,319.6 1165,320 1169,321.2 1173,323 1177,325.133 1181,328.867 1185,332.433 1189,333.967 1193,335.8 1197,337.033 1201,339.133 1205,342.933 1209,347.433 1213,353.167 1217,359.5 1221,366.833 1225,376 1229,384.5 1233,393.333 1237,401.833 1241,410.167 1245,419.7 1249,427.633 1253,433.233 1257,435.667 1261,441.833 1265,447.433 1269,452.433 1273,457.133 1277,461.967 1281,466.2 1285,470.267 1289,473.733 1293,476.433 1297,479.067 1301,479.833" fill="none" stroke="#0000cd" stroke-width="1" />
<rect x="1" y="54" width="1637" height="2" fill="#ff0000"/>
<rect x="1" y="174" width="1637" height="2" fill="#ff0000"/>
<rect x="1" y="303" width="1637" height="2" fill="#ff0000"/>
<rect x="1" y="414" width="1637" height="2" fill="#00ff00"/>
<rect x="1" y="521" width="1637" height="2" fill="#0000ff"/>
<rect x="0" y="301" width="6" height="6" fill="#ff0000"/>
<rect x="2" y="303" width="2" height="2" fill="#fff"/>
<rect x="1631" y="301" width="6" height="6" fill="#ff0000"/>
<rect x="1633" y="303" width="2" height="2" fill="#fff"/>
<rect x="0" y="412" width="6" height="6" fill="#00ff00"/>
<rect x="2" y="414" width="2" height="2" fill="#fff"/>
<rect x="1631" y="412" width="6" height="6" fill="#00ff00"/>
<rect x="1633" y="414" width="2" height="2" fill="#fff"/>
<polyline points="1,662.329 5,664.319 9,664.866 13,661.656 17,659.529 21,659.888 25,661.62 29,660.737 33,654.003 37,658.125 41,655.219 45,652.526 49,646.673 53,644.374 57,646.488 61,654.647 65,657.508 69,653.795 73,652.269 77,658.342 81,663.328 85,665.577 89,666.24 93,661.299 97,659.961 101,653.883 105,644.229 109,643.195 113,643.857 117,639.351 121,645.604 125,648.148 129,639.676 133,644.611 137,646.657 141,647.806 145,645.547 149,653.838 153,652.382 157,651.968 161,656.239 165,651.934 169,649.199 173,654.225 177,651.551 181,643.172 185,638.299 189,636.6 193,634.824 197,629.343 201,628.443 205,628.286 209,632.033 213,631.471 217,636.84 221,644.168 225,644.564 229,642.131 233,641.105 237,641.588 241,647.966 245,643.89 249,639.067 253,635.36 257,634.686 261,634.216 265,638.819 269,634.095 273,635.766 277,644.722 281,645.766 285,646.995 289,644.881 293,650.735 297,644.812 301,640.844 305,640.844 309,650.547 313,649.744 317,649.405 321,642.041 325,647.781 329,647.781 333,642.579 337,646.044 341,646.359 345,642.374 349,642.911 353,641.104 357,645.957 361,637.102 365,632.508 369,629.817 373,635.481 377,635.358 381,637.482 385,640.887 389,642.562 393,635.929 397,643.222 401,642.472 405,640.056 409,636.768 413,639.122 417,635.15 421,644.818 425,645.774 429,639.955 433,640.133 437,645.189 441,644.857 445,639.052 449,644.354 453,645.7 457,646.737 461,648.326 465,640.064 469,643.038 473,644.868 477,645.246 481,639.935 485,632.535 489,637.377 493,635.325 497,635.957 501,644.116 505,651.295 509,652.426 513,656.469 517,664.391 521,665.363 525,666.432 529,660.746 533,659.561 537,654.196 541,646.902 545,642.597 549,645.194 553,645.505 557,649.916 561,663.7 565,662.387 569,663.074 573,663.955 577,666.43 581,669.951 585,668.76 589,670.252 593,670.991 597,663.125 601,663.701 605,667.475 609,668.547 613,659.285 617,661.312 621,660.542 625,655.095 629,657.156 633,660.348 637,663.059 641,663.869 645,662.762 649,661.382 653,661.887 657,652.14 661,653.369 665,655.941 669,646.916 673,643.551 677,644.28 681,642.519 685,636.739 689,639.637 693,643.214 697,640.316 701,645.021 705,636.589 709,635.107 713,636.572 717,639.1 721,632.207 725,625.252 729,638.509 733,640.573 737,642.778 741,640.219 745,641.797 749,632.248 753,631.961 757,638.096 761,639.328 765,635.745 769,633.375 773,640.69 777,638.791 781,636.471 785,640.018 789,642.064 793,642.869 797,639.604 801,640.144 805,641.088 809,637 813,637.418 817,635.724 821,649.367 825,650.42 829,658.186 833,657.228 837,660.832 841,660.208 845,650.886 849,649.516 853,641.667 857,640.025 861,645.501 865,644.588 869,640.187 873,643.876 877,642.358 881,641.427 885,642.382 889,645.614 893,641.402 897,643.576 901,646.291 905,647.452 909,647.452 913,649.55 917,636.254 921,635.053 925,633.836 929,635.582 933,639.719 937,635.538 941,636.791 945,646.709 949,658.711 953,658.505 957,650.908 961,654.254 965,655.205 969,661.092 973,661.317 977,662.592 981,664.628 985,665.839 989,665.055 993,666.253 997,667.896 1001,668.133 1005,666.848 1009,662.686 1013,642.762 1017,648.682 1021,647.943 1025,647.943 1029,648.892 1033,645.489 1037,642.088 1041,643.002 1045,636.45 1049,634.621 1053,637.674 1057,635.019 1061,633.146 1065,631.635 1069,639.479 1073,637.388 1077,641.446 1081,639.007 1085,629.57 1089,633.582 1093,632.232 1097,631.468 1101,629.063 1105,634.316 1109,635.921 1113,635.361 1117,637.113 1121,637.417 1125,632.467 1129,635.957 1133,649.3 1137,656.765 1141,642.956 1145,644.541 1149,648.767 1153,647.842 1157,650.242 1161,653.656 1165,651.931 1169,654.11 1173,658.701 1177,657.485 1181,662.628 1185,659.176 1189,652.016 1193,651.591 1197,651.141 1201,653.707 1205,651.971 1209,658.381 1213,662.381 1217,664.081 1221,665.851 1225,673.11 1229,669.506 1233,670.158 1237,669.054 1241,667.9 1245,669.267 1249,659.074 1253,655.001 1257,644.453 1261,651.098 1265,649.632 1269,650.758 1273,648.014 1277,651.105 1281,651.619 1285,648.779 1289,647.685 1293,649.137 1297,647.456 1301,643.091" fill="none" stroke="#1e90ff" stroke-width="1" />
<polyline points="1,708.5 5,716.5 9,724.5 13,733.5 17,742.5 21,751.5 25,758.5 29,764.5 33,769.5 37,773.5 41,775.5 45,776.5 49,776.5 53,776.5 57,774.5 61,773.5 65,771.5 69,770.5 73,769.5 77,768.5 81,768.5 85,769.5 89,771.5 93,773.5 97,775.5 101,777.5 105,778.5 109,779.5 113,778.5 117,776.5 121,774.5 125,771.5 129,767.5 133,763.5 137,759.5 141,756.5 145,754.5 149,752.5 153,752.5 157,752.5 161,752.5 165,753.5 169,754.5 173,756.5 177,757.5 181,758.5 185,758.5 189,757.5 193,755.5 197,752.5 201,748.5 205,744.5 209,739.5 213,733.5 217,729.5 221,725.5 225,722.5 229,721.5 233,720.5 237,720.5 241,722.5 245,723.5 249,725.5 253,727.5 257,728.5 261,728.5 265,728.5 269,728.5 273,728.5 277,727.5 281,727.5 285,727.5 289,727.5 293,729.5 297,730.5 301,731.5 305,733.5 309,735.5 313,737.5 317,738.5 321,739.5 325,741.5 329,741.5 333,742.5 337,743.5 341,744.5 345,744.5 349,744.5 353,744.5 357,743.5 361,743.5 365,742.5 369,740.5 373,738.5 377,737.5 381,735.5 385,733.5 389,732.5 393,730.5 397,729.5 401,729.5 405,729.5 409,729.5 413,729.5 417,730.5 421,730.5 425,730.5 429,731.5 433,731.5 437,732.5 441,732.5 445,733.5 449,733.5 453,734.5 457,735.5 461,736.5 465,737.5 469,737.5 473,738.5 477,739.5 481,739.5 485,739.5 489,739.5 493,738.5 497,737.5 501,736.5 505,736.5 509,736.5 513,736.5 517,738.5 521,740.5 525,744.5 529,748.5 533,753.5 537,757.5 541,760.5 545,762.5 549,764.5 553,764.5 557,764.5 561,764.5 565,764.5 569,764.5 573,765.5 577,766.5 581,769.5 585,772.5 589,776.5 593,781.5 597,784.5 601,787.5 605,790.5 609,792.5 613,793.5 617,794.5 621,794.5 625,794.5 629,793.5 633,791.5 637,790.5 641,789.5 645,788.5 649,787.5 653,786.5 657,785.5 661,783.5 665,782.5 669,780.5 673,778.5 677,776.5 681,772.5 685,769.5 689,765.5 693,762.5 697,758.5 701,755.5 705,752.5 709,749.5 713,746.5 717,743.5 721,741.5 725,739.5 729,736.5 733,734.5 737,732.5 741,730.5 745,729.5 749,728.5 753,727.5 757,725.5 761,725.5 765,725.5 769,724.5 773,723.5 777,723.5 781,722.5 785,722.5 789,722.5 793,723.5 797,723.5 801,724.5 805,725.5 809,726.5 813,727.5 817,727.5 821,728.5 825,729.5 829,731.5 833,733.5 837,736.5 841,739.5 845,742.5 849,745.5 853,748.5 857,750.5 861,751.5 865,752.5 869,752.5 873,751.5 877,749.5 881,748.5 885,746.5 889,745.5 893,744.5 897,743.5 901,742.5 905,742.5 909,742.5 913,742.5 917,742.5 921,742.5 925,741.5 929,741.5 933,740.5 937,739.5 941,738.5 945,737.5 949,736.5 953,737.5 957,738.5 961,740.5 965,742.5 969,744.5 973,747.5 977,751.5 981,755.5 985,758.5 989,761.5 993,764.5 997,767.5 1001,770.5 1005,772.5 1009,774.5 1013,774.5 1017,774.5 1021,774.5 1025,772.5 1029,771.5 1033,769.5 1037,766.5 1041,763.5 1045,760.5 1049,757.5 1053,754.5 1057,752.5 1061,749.5 1065,746.5 1069,743.5 1073,741.5 1077,739.5 1081,737.5 1085,736.5 1089,734.5 1093,733.5 1097,732.5 1101,731.5 1105,730.5 1109,729.5 1113,728.5 1117,727.5 1121,726.5 1125,726.5 1129,726.5 1133,727.5 1137,728.5 1141,730.5 1145,731.5 1149,733.5 1153,734.5 1157,736.5 1161,738.5 1165,740.5 1169,742.5 1173,744.5 1177,746.5 1181,749.5 1185,751.5 1189,753.5 1193,755.5 1197,757.5 1201,758.5 1205,759.5 1209,760.5 1213,760.5 1217,761.5 1221,762.5 1225,763.5 1229,765.5 1233,768.5 1237,770.5 1241,773.5 1245,776.5 1249,778.5 1253,779.5 1257,780.5 1261,779.5 1265,778.5 1269,776.5 1273,774.5 1277,772.5 1281,769.5 1285,767.5 1289,765.5 1293,763.5 1297,761.5 1301,759.5" fill="none" stroke="#ff0000" stroke-width="1" stroke-dasharray="3 3"/>
</svg>
<div class="lbl" style="left:15.8px;top:28px;letter-spacing:0.120px;">USDCAD,Daily</div>
<div class="lbl" style="left:87.3px;top:28px;letter-spacing:-0.172px;">1.30629 1.30909 1.30629 1.30853</div>
<div class="lbl" style="left:4.4px;top:598px;letter-spacing:-0.154px;">RSI(14) 52.6781</div>
<div class="lbl" style="left:4.9px;top:704px;letter-spacing:-0.130px;">MACD(12,26,9) -0.001246 -0.002297</div>
<div class="ax" style="top:23px">1.35930</div>
<div class="ax" style="top:56px">1.35550</div>
<div class="ax" style="top:89px">1.35160</div>
<div class="ax" style="top:122px">1.34780</div>
<div class="ax" style="top:155px">1.34390</div>
<div class="ax" style="top:188px">1.34000</div>
<div class="ax" style="top:221px">1.33620</div>
<div class="ax" style="top:254px">1.33230</div>
<div class="ax" style="top:287px">1.32850</div>
<div class="ax" style="top:320px">1.32460</div>
<div class="ax" style="top:353px">1.32080</div>
<div class="ax" style="top:386px">1.31690</div>
<div class="ax" style="top:419px">1.31310</div>
<div class="ax" style="top:452px">1.30920</div>
<div class="ax" style="top:485px">1.30530</div>
<div class="ax" style="top:551px">1.29760</div>
<div class="ax" style="top:584px">1.29380</div>
<div class="ax" style="left:1641px;top:596px">100</div>
<div class="ax" style="left:1641px;top:621px">70</div>
<div class="ax" style="left:1641px;top:662px">30</div>
<div class="ax" style="left:1641px;top:686px">0</div>
<div class="ax" style="left:1641px;top:702px">0.00714</div>
<div class="ax" style="left:1641px;top:741px">0.00</div>
<div class="ax" style="left:1641px;top:792px">-0.009015</div>
<div class="pl" style="top:49px;background:#ff0000"><span>1.35606</span></div>
<div class="pl" style="top:169px;background:#ff0000"><span>1.34206</span></div>
<div class="pl" style="top:298px;background:#ff0000"><span>1.32700</span></div>
<div class="pl" style="top:409px;background:#00ff00"><span>1.31405</span></div>
<div class="pl" style="top:457px;background:#000"><span>1.30853</span></div>
<div class="pl" style="top:516px;background:#0000ff"><span>1.30152</span></div>
<div class="dt" style="left:0.5px">8 Jan 2019</div>
<div class="dt" style="left:64.5px">26 Jan 2019</div>
<div class="dt" style="left:128.5px">14 Feb 2019</div>
<div class="dt" style="left:192.5px">5 Mar 2019</div>
<div class="dt" style="left:256.5px">23 Mar 2019</div>
<div class="dt" style="left:320.5px">11 Apr 2019</div>
<div class="dt" style="left:384.5px">30 Apr 2019</div>
<div class="dt" style="left:448.5px">18 May 2019</div>
<div class="dt" style="left:512.5px">6 Jun 2019</div>
<div class="dt" style="left:576.5px">25 Jun 2019</div>
<div class="dt" style="left:640.5px">13 Jul 2019</div>
<div class="dt" style="left:704.5px">1 Aug 2019</div>
<div class="dt" style="left:768.5px">20 Aug 2019</div>
<div class="dt" style="left:832.5px">7 Sep 2019</div>
<div class="dt" style="left:896.5px">26 Sep 2019</div>
<div class="dt" style="left:960.5px">15 Oct 2019</div>
<div class="dt" style="left:1024.5px">2 Nov 2019</div>
<div class="dt" style="left:1088.5px">21 Nov 2019</div>
<div class="dt" style="left:1152.5px">10 Dec 2019</div>
<div class="dt" style="left:1216.5px">28 Dec 2019</div>
<div class="dt" style="left:1280.5px">16 Jan 2020</div>
<div class="abs" style="left:0;top:823px;width:1680px;height:1px;background:#e8e8e8"></div>
<div class="abs" style="left:0;top:825px;width:1680px;height:1px;background:#000"></div>
<div class="abs" style="left:0;top:826px;width:1680px;height:19px;background:#f0f0f0"></div>
<div class="abs" style="left:310px;top:825px;width:104px;height:19px;background:#fff;border:1px solid #000;border-top:none;box-sizing:border-box"></div>
<div class="tab" style="left:13.6px;top:829px;letter-spacing:-0.104px;">EURUSD,Daily</div>
<div class="tab" style="left:115.6px;top:829px;letter-spacing:-0.042px;">USDCHF,Daily</div>
<div class="tab" style="left:217px;top:829px;letter-spacing:0.004px;">AUDUSD,Daily</div>
<div class="tab" style="left:320.6px;top:829px;letter-spacing:-0.029px;color:#000;">USDCAD,Daily</div>
<div class="tab" style="left:423.8px;top:829px;letter-spacing:0.023px;">USDCNH,Daily</div>
<div class="tab" style="left:529.8px;top:829px;letter-spacing:-0.146px;">EURUSD,Daily</div>
<div class="tab" style="left:633.8px;top:829px;letter-spacing:-0.315px;">GBPUSD,H4</div>
<div class="abs" style="left:106px;top:828px;width:1px;height:14px;background:#666"></div>
<div class="abs" style="left:206px;top:828px;width:1px;height:14px;background:#666"></div>
<div class="abs" style="left:518px;top:828px;width:1px;height:14px;background:#666"></div>
<div class="abs" style="left:622px;top:828px;width:1px;height:14px;background:#666"></div>
<div class="abs" style="left:714px;top:828px;width:1px;height:14px;background:#666"></div>
<svg width="1680" height="847" style="pointer-events:none"><polygon points="1653,834 1657,830.5 1657,837.5" fill="#999"/><polygon points="1672,830.5 1676,834 1672,837.5" fill="#999"/></svg>
</body></html>
